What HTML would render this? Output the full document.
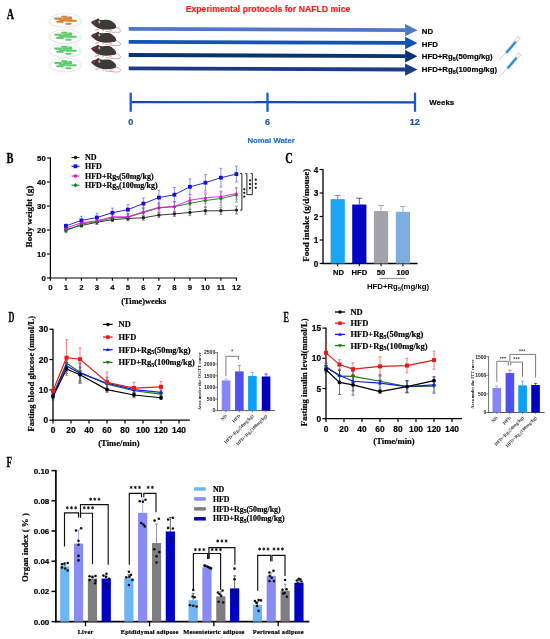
<!DOCTYPE html>
<html><head><meta charset="utf-8"><style>
html,body{margin:0;padding:0;background:#fff;}
svg{display:block;will-change:transform;}
</style></head><body>
<svg width="550" height="639" viewBox="0 0 550 639">
<rect width="550" height="639" fill="#fff"/>
<text transform="translate(6.7,18.6) scale(0.68,1)" font-family='"Liberation Serif", serif' font-size="14.8" font-weight="bold" fill="#000" stroke="#000" stroke-width="0.3">A</text>
<text x="185.7" y="12.4" font-family='"Liberation Sans", sans-serif' font-size="8.7" font-weight="bold" fill="#ff1a1a" text-anchor="start" stroke="#ff1a1a" stroke-width="0.18" >Experimental protocols for NAFLD mice</text>
<ellipse cx="65.4" cy="20.5" rx="16.4" ry="6.9" fill="#fff" stroke="#d6d6d6" stroke-width="0.55"/>
<ellipse cx="65.4" cy="21.4" rx="15.4" ry="5.6" fill="none" stroke="#e2e2e2" stroke-width="0.45"/>
<rect x="61.2" y="15.65" width="6.50" height="2.1" rx="1" fill="#d48030"/>
<rect x="54.3" y="17.55" width="8.00" height="2.1" rx="1" fill="#d48030"/>
<rect x="62.7" y="17.55" width="9.60" height="2.1" rx="1" fill="#d48030"/>
<rect x="56.2" y="20.75" width="7.60" height="2.1" rx="1" fill="#d48030"/>
<rect x="65.4" y="19.65" width="11.40" height="2.1" rx="1" fill="#d48030"/>
<rect x="65.4" y="22.65" width="6.10" height="2.1" rx="1" fill="#d48030"/>
<rect x="59" y="19.25" width="7.00" height="2.1" rx="1" fill="#d48030"/>
<rect x="68" y="16.45" width="4.00" height="2.1" rx="1" fill="#d48030"/>
<ellipse cx="65.4" cy="36.6" rx="16.4" ry="6.9" fill="#fff" stroke="#d6d6d6" stroke-width="0.55"/>
<ellipse cx="65.4" cy="37.5" rx="15.4" ry="5.6" fill="none" stroke="#e2e2e2" stroke-width="0.45"/>
<rect x="61.2" y="31.75" width="6.50" height="2.1" rx="1" fill="#5ccc6a"/>
<rect x="54.3" y="33.65" width="8.00" height="2.1" rx="1" fill="#5ccc6a"/>
<rect x="62.7" y="33.65" width="9.60" height="2.1" rx="1" fill="#5ccc6a"/>
<rect x="56.2" y="36.85" width="7.60" height="2.1" rx="1" fill="#5ccc6a"/>
<rect x="65.4" y="35.75" width="11.40" height="2.1" rx="1" fill="#5ccc6a"/>
<rect x="65.4" y="38.75" width="6.10" height="2.1" rx="1" fill="#5ccc6a"/>
<rect x="59" y="35.35" width="7.00" height="2.1" rx="1" fill="#5ccc6a"/>
<rect x="68" y="32.55" width="4.00" height="2.1" rx="1" fill="#5ccc6a"/>
<ellipse cx="65.4" cy="50.5" rx="16.4" ry="6.9" fill="#fff" stroke="#d6d6d6" stroke-width="0.55"/>
<ellipse cx="65.4" cy="51.4" rx="15.4" ry="5.6" fill="none" stroke="#e2e2e2" stroke-width="0.45"/>
<rect x="61.2" y="45.65" width="6.50" height="2.1" rx="1" fill="#5ccc6a"/>
<rect x="54.3" y="47.55" width="8.00" height="2.1" rx="1" fill="#5ccc6a"/>
<rect x="62.7" y="47.55" width="9.60" height="2.1" rx="1" fill="#5ccc6a"/>
<rect x="56.2" y="50.75" width="7.60" height="2.1" rx="1" fill="#5ccc6a"/>
<rect x="65.4" y="49.65" width="11.40" height="2.1" rx="1" fill="#5ccc6a"/>
<rect x="65.4" y="52.65" width="6.10" height="2.1" rx="1" fill="#5ccc6a"/>
<rect x="59" y="49.25" width="7.00" height="2.1" rx="1" fill="#5ccc6a"/>
<rect x="68" y="46.45" width="4.00" height="2.1" rx="1" fill="#5ccc6a"/>
<ellipse cx="65.4" cy="65" rx="16.4" ry="6.9" fill="#fff" stroke="#d6d6d6" stroke-width="0.55"/>
<ellipse cx="65.4" cy="65.9" rx="15.4" ry="5.6" fill="none" stroke="#e2e2e2" stroke-width="0.45"/>
<rect x="61.2" y="60.15" width="6.50" height="2.1" rx="1" fill="#5ccc6a"/>
<rect x="54.3" y="62.05" width="8.00" height="2.1" rx="1" fill="#5ccc6a"/>
<rect x="62.7" y="62.05" width="9.60" height="2.1" rx="1" fill="#5ccc6a"/>
<rect x="56.2" y="65.25" width="7.60" height="2.1" rx="1" fill="#5ccc6a"/>
<rect x="65.4" y="64.15" width="11.40" height="2.1" rx="1" fill="#5ccc6a"/>
<rect x="65.4" y="67.15" width="6.10" height="2.1" rx="1" fill="#5ccc6a"/>
<rect x="59" y="63.75" width="7.00" height="2.1" rx="1" fill="#5ccc6a"/>
<rect x="68" y="60.95" width="4.00" height="2.1" rx="1" fill="#5ccc6a"/>
<g transform="translate(0,0)">
<path d="M115.8,27.3 C118.5,28 120.6,29.3 120.5,31 C120.3,32.6 117.5,32.6 112,32.1 C109,31.8 107,31.5 105.3,31.2" fill="none" stroke="#e89a9a" stroke-width="0.95"/>
<path d="M98.9,29 L95.3,30.4 M104.2,29.5 L102.6,31 M109.8,29.6 L111.5,30.9" stroke="#e89a9a" stroke-width="1.1" fill="none"/>
<path d="M91.05,22.3 C92.3,21.2 93.8,20.4 95.3,20.1 L96.7,19.3 L98.1,18.2 L99.6,19.7 C101,20 102,20.1 103,20.1 C105,19.8 107,19.7 108.4,19.9 C110.5,20.3 112,21.1 112.9,22 C114.3,23 115.3,24 115.7,25 C116.2,26 116.3,27 115.9,27.7 C115.2,28.5 114.3,28.8 113.5,28.9 C111,29.4 108.5,29.6 106.2,29.6 C104,29.6 102,29.3 100.4,28.9 C98.8,28.4 97.3,27.8 96,27 C94.8,26.2 93.4,25.1 92.4,24.1 C91.8,23.5 91.3,22.9 91.05,22.3 Z" fill="#3d3939"/>
<ellipse cx="99.3" cy="21.9" rx="0.9" ry="1.5" fill="#f0a0a0" transform="rotate(-15 99.3 21.9)"/>
<circle cx="94.6" cy="22.2" r="0.75" fill="#e8203c"/>
</g>
<g transform="translate(0,13.2)">
<path d="M115.8,27.3 C118.5,28 120.6,29.3 120.5,31 C120.3,32.6 117.5,32.6 112,32.1 C109,31.8 107,31.5 105.3,31.2" fill="none" stroke="#e89a9a" stroke-width="0.95"/>
<path d="M98.9,29 L95.3,30.4 M104.2,29.5 L102.6,31 M109.8,29.6 L111.5,30.9" stroke="#e89a9a" stroke-width="1.1" fill="none"/>
<path d="M91.05,22.3 C92.3,21.2 93.8,20.4 95.3,20.1 L96.7,19.3 L98.1,18.2 L99.6,19.7 C101,20 102,20.1 103,20.1 C105,19.8 107,19.7 108.4,19.9 C110.5,20.3 112,21.1 112.9,22 C114.3,23 115.3,24 115.7,25 C116.2,26 116.3,27 115.9,27.7 C115.2,28.5 114.3,28.8 113.5,28.9 C111,29.4 108.5,29.6 106.2,29.6 C104,29.6 102,29.3 100.4,28.9 C98.8,28.4 97.3,27.8 96,27 C94.8,26.2 93.4,25.1 92.4,24.1 C91.8,23.5 91.3,22.9 91.05,22.3 Z" fill="#3d3939"/>
<ellipse cx="99.3" cy="21.9" rx="0.9" ry="1.5" fill="#f0a0a0" transform="rotate(-15 99.3 21.9)"/>
<circle cx="94.6" cy="22.2" r="0.75" fill="#e8203c"/>
</g>
<g transform="translate(0,26.2)">
<path d="M115.8,27.3 C118.5,28 120.6,29.3 120.5,31 C120.3,32.6 117.5,32.6 112,32.1 C109,31.8 107,31.5 105.3,31.2" fill="none" stroke="#e89a9a" stroke-width="0.95"/>
<path d="M98.9,29 L95.3,30.4 M104.2,29.5 L102.6,31 M109.8,29.6 L111.5,30.9" stroke="#e89a9a" stroke-width="1.1" fill="none"/>
<path d="M91.05,22.3 C92.3,21.2 93.8,20.4 95.3,20.1 L96.7,19.3 L98.1,18.2 L99.6,19.7 C101,20 102,20.1 103,20.1 C105,19.8 107,19.7 108.4,19.9 C110.5,20.3 112,21.1 112.9,22 C114.3,23 115.3,24 115.7,25 C116.2,26 116.3,27 115.9,27.7 C115.2,28.5 114.3,28.8 113.5,28.9 C111,29.4 108.5,29.6 106.2,29.6 C104,29.6 102,29.3 100.4,28.9 C98.8,28.4 97.3,27.8 96,27 C94.8,26.2 93.4,25.1 92.4,24.1 C91.8,23.5 91.3,22.9 91.05,22.3 Z" fill="#3d3939"/>
<ellipse cx="99.3" cy="21.9" rx="0.9" ry="1.5" fill="#f0a0a0" transform="rotate(-15 99.3 21.9)"/>
<circle cx="94.6" cy="22.2" r="0.75" fill="#e8203c"/>
</g>
<g transform="translate(0,39.6)">
<path d="M115.8,27.3 C118.5,28 120.6,29.3 120.5,31 C120.3,32.6 117.5,32.6 112,32.1 C109,31.8 107,31.5 105.3,31.2" fill="none" stroke="#e89a9a" stroke-width="0.95"/>
<path d="M98.9,29 L95.3,30.4 M104.2,29.5 L102.6,31 M109.8,29.6 L111.5,30.9" stroke="#e89a9a" stroke-width="1.1" fill="none"/>
<path d="M91.05,22.3 C92.3,21.2 93.8,20.4 95.3,20.1 L96.7,19.3 L98.1,18.2 L99.6,19.7 C101,20 102,20.1 103,20.1 C105,19.8 107,19.7 108.4,19.9 C110.5,20.3 112,21.1 112.9,22 C114.3,23 115.3,24 115.7,25 C116.2,26 116.3,27 115.9,27.7 C115.2,28.5 114.3,28.8 113.5,28.9 C111,29.4 108.5,29.6 106.2,29.6 C104,29.6 102,29.3 100.4,28.9 C98.8,28.4 97.3,27.8 96,27 C94.8,26.2 93.4,25.1 92.4,24.1 C91.8,23.5 91.3,22.9 91.05,22.3 Z" fill="#3d3939"/>
<ellipse cx="99.3" cy="21.9" rx="0.9" ry="1.5" fill="#f0a0a0" transform="rotate(-15 99.3 21.9)"/>
<circle cx="94.6" cy="22.2" r="0.75" fill="#e8203c"/>
</g>
<path d="M128.7,27.00 L405.6,28.15 L405.6,31.95 L128.7,30.80 Z" fill="#4e77c8"/>
<path d="M405.1,23.95 L417.5,30.15 L405.1,36.35 Z" fill="#4e77c8"/>
<path d="M128.7,40.00 L405.6,41.05 L405.6,44.85 L128.7,43.80 Z" fill="#1253b4"/>
<path d="M405.1,36.85 L417.5,43.05 L405.1,49.25 Z" fill="#1253b4"/>
<path d="M128.7,53.10 L405.6,54.20 L405.6,58.00 L128.7,56.90 Z" fill="#0a3374"/>
<path d="M405.1,50.00 L417.5,56.20 L405.1,62.40 Z" fill="#0a3374"/>
<path d="M128.7,66.55 L405.6,67.60 L405.6,71.40 L128.7,70.35 Z" fill="#1c3b85"/>
<path d="M405.1,63.40 L417.5,69.60 L405.1,75.80 Z" fill="#1c3b85"/>
<text x="421.8" y="33.6" font-family='"Liberation Sans", sans-serif' font-size="7.8" font-weight="bold" fill="#000" text-anchor="start" stroke="#000" stroke-width="0.18" >ND</text>
<text x="421.8" y="46.550000000000004" font-family='"Liberation Sans", sans-serif' font-size="7.8" font-weight="bold" fill="#000" text-anchor="start" stroke="#000" stroke-width="0.18" >HFD</text>
<text x="421.8" y="59.0" font-family='"Liberation Sans", sans-serif' font-size="7.8" font-weight="bold" fill="#000" text-anchor="start" stroke="#000" stroke-width="0.18" >HFD+Rg<tspan font-size="5.5" dy="1.5">5</tspan><tspan dy="-1.5">(50mg/kg)</tspan></text>
<text x="421.8" y="72.45" font-family='"Liberation Sans", sans-serif' font-size="7.8" font-weight="bold" fill="#000" text-anchor="start" stroke="#000" stroke-width="0.18" >HFD+Rg<tspan font-size="5.5" dy="1.5">5</tspan><tspan dy="-1.5">(100mg/kg)</tspan></text>
<line x1="498.60" y1="60.10" x2="506.40" y2="52.70" stroke="#a0a0a0" stroke-width="0.55" />
<line x1="506.00" y1="53.20" x2="519.00" y2="37.40" stroke="#c4c4c4" stroke-width="3.3" />
<line x1="506.20" y1="52.95" x2="518.70" y2="37.75" stroke="#ffffff" stroke-width="2.2" />
<line x1="506.40" y1="52.70" x2="515.80" y2="41.70" stroke="#1a90e2" stroke-width="2.1" />
<line x1="520.76" y1="38.71" x2="517.24" y2="36.09" stroke="#cfcfcf" stroke-width="0.8" />
<line x1="499.40" y1="76.20" x2="507.60" y2="68.30" stroke="#a0a0a0" stroke-width="0.55" />
<line x1="507.20" y1="68.80" x2="519.70" y2="53.90" stroke="#c4c4c4" stroke-width="3.3" />
<line x1="507.40" y1="68.55" x2="519.40" y2="54.25" stroke="#ffffff" stroke-width="2.2" />
<line x1="507.60" y1="68.30" x2="516.60" y2="57.80" stroke="#1a90e2" stroke-width="2.1" />
<line x1="521.42" y1="55.27" x2="517.98" y2="52.53" stroke="#cfcfcf" stroke-width="0.8" />
<path d="M130.7,100.95 L415,101.35 L415,103.6 L130.7,103.15 Z" fill="#144ca2"/>
<rect x="129.54999999999998" y="92.6" width="2.3" height="19.2" fill="#1a5cc6"/>
<rect x="266.35" y="92.6" width="2.3" height="19.2" fill="#1a5cc6"/>
<rect x="413.85" y="92.6" width="2.3" height="19.2" fill="#1a5cc6"/>
<text x="130.7" y="124.9" font-family='"Liberation Sans", sans-serif' font-size="9" font-weight="bold" fill="#1a50a8" text-anchor="middle" stroke="#1a50a8" stroke-width="0.18" >0</text>
<text x="267.6" y="124.9" font-family='"Liberation Sans", sans-serif' font-size="9" font-weight="bold" fill="#1a50a8" text-anchor="middle" stroke="#1a50a8" stroke-width="0.18" >6</text>
<text x="414.8" y="124.9" font-family='"Liberation Sans", sans-serif' font-size="9" font-weight="bold" fill="#1a50a8" text-anchor="middle" stroke="#1a50a8" stroke-width="0.18" >12</text>
<text x="429.3" y="104.9" font-family='"Liberation Sans", sans-serif' font-size="7.9" font-weight="bold" fill="#000" text-anchor="start" stroke="#000" stroke-width="0.18" >Weeks</text>
<text x="247.4" y="142.7" font-family='"Liberation Sans", sans-serif' font-size="7.8" font-weight="bold" fill="#2a6ed0" text-anchor="start" stroke="#2a6ed0" stroke-width="0.18" >Nomal Water</text>
<text transform="translate(6.6,162.7) scale(0.7,1)" font-family='"Liberation Serif", serif' font-size="14.8" font-weight="bold" fill="#000" stroke="#000" stroke-width="0.3">B</text>
<line x1="50.40" y1="278.00" x2="50.40" y2="157.50" stroke="#000" stroke-width="1.2" />
<line x1="49.80" y1="278.00" x2="236.90" y2="278.00" stroke="#000" stroke-width="1.2" />
<line x1="47.00" y1="278.00" x2="50.40" y2="278.00" stroke="#000" stroke-width="1.1" />
<text x="45.8" y="280.8" font-family='"Liberation Sans", sans-serif' font-size="7.8" font-weight="bold" fill="#000" text-anchor="end" stroke="#000" stroke-width="0.18" >0</text>
<line x1="47.00" y1="254.00" x2="50.40" y2="254.00" stroke="#000" stroke-width="1.1" />
<text x="45.8" y="256.8" font-family='"Liberation Sans", sans-serif' font-size="7.8" font-weight="bold" fill="#000" text-anchor="end" stroke="#000" stroke-width="0.18" >10</text>
<line x1="47.00" y1="230.00" x2="50.40" y2="230.00" stroke="#000" stroke-width="1.1" />
<text x="45.8" y="232.8" font-family='"Liberation Sans", sans-serif' font-size="7.8" font-weight="bold" fill="#000" text-anchor="end" stroke="#000" stroke-width="0.18" >20</text>
<line x1="47.00" y1="206.00" x2="50.40" y2="206.00" stroke="#000" stroke-width="1.1" />
<text x="45.8" y="208.8" font-family='"Liberation Sans", sans-serif' font-size="7.8" font-weight="bold" fill="#000" text-anchor="end" stroke="#000" stroke-width="0.18" >30</text>
<line x1="47.00" y1="182.00" x2="50.40" y2="182.00" stroke="#000" stroke-width="1.1" />
<text x="45.8" y="184.8" font-family='"Liberation Sans", sans-serif' font-size="7.8" font-weight="bold" fill="#000" text-anchor="end" stroke="#000" stroke-width="0.18" >40</text>
<line x1="47.00" y1="158.00" x2="50.40" y2="158.00" stroke="#000" stroke-width="1.1" />
<text x="45.8" y="160.8" font-family='"Liberation Sans", sans-serif' font-size="7.8" font-weight="bold" fill="#000" text-anchor="end" stroke="#000" stroke-width="0.18" >50</text>
<line x1="50.40" y1="278.00" x2="50.40" y2="280.80" stroke="#000" stroke-width="1.1" />
<text x="50.4" y="289.7" font-family='"Liberation Sans", sans-serif' font-size="7.8" font-weight="bold" fill="#000" text-anchor="middle" stroke="#000" stroke-width="0.18" >0</text>
<line x1="65.90" y1="278.00" x2="65.90" y2="280.80" stroke="#000" stroke-width="1.1" />
<text x="65.9" y="289.7" font-family='"Liberation Sans", sans-serif' font-size="7.8" font-weight="bold" fill="#000" text-anchor="middle" stroke="#000" stroke-width="0.18" >1</text>
<line x1="81.40" y1="278.00" x2="81.40" y2="280.80" stroke="#000" stroke-width="1.1" />
<text x="81.4" y="289.7" font-family='"Liberation Sans", sans-serif' font-size="7.8" font-weight="bold" fill="#000" text-anchor="middle" stroke="#000" stroke-width="0.18" >2</text>
<line x1="96.90" y1="278.00" x2="96.90" y2="280.80" stroke="#000" stroke-width="1.1" />
<text x="96.9" y="289.7" font-family='"Liberation Sans", sans-serif' font-size="7.8" font-weight="bold" fill="#000" text-anchor="middle" stroke="#000" stroke-width="0.18" >3</text>
<line x1="112.40" y1="278.00" x2="112.40" y2="280.80" stroke="#000" stroke-width="1.1" />
<text x="112.4" y="289.7" font-family='"Liberation Sans", sans-serif' font-size="7.8" font-weight="bold" fill="#000" text-anchor="middle" stroke="#000" stroke-width="0.18" >4</text>
<line x1="127.90" y1="278.00" x2="127.90" y2="280.80" stroke="#000" stroke-width="1.1" />
<text x="127.9" y="289.7" font-family='"Liberation Sans", sans-serif' font-size="7.8" font-weight="bold" fill="#000" text-anchor="middle" stroke="#000" stroke-width="0.18" >5</text>
<line x1="143.40" y1="278.00" x2="143.40" y2="280.80" stroke="#000" stroke-width="1.1" />
<text x="143.4" y="289.7" font-family='"Liberation Sans", sans-serif' font-size="7.8" font-weight="bold" fill="#000" text-anchor="middle" stroke="#000" stroke-width="0.18" >6</text>
<line x1="158.90" y1="278.00" x2="158.90" y2="280.80" stroke="#000" stroke-width="1.1" />
<text x="158.9" y="289.7" font-family='"Liberation Sans", sans-serif' font-size="7.8" font-weight="bold" fill="#000" text-anchor="middle" stroke="#000" stroke-width="0.18" >7</text>
<line x1="174.40" y1="278.00" x2="174.40" y2="280.80" stroke="#000" stroke-width="1.1" />
<text x="174.4" y="289.7" font-family='"Liberation Sans", sans-serif' font-size="7.8" font-weight="bold" fill="#000" text-anchor="middle" stroke="#000" stroke-width="0.18" >8</text>
<line x1="189.90" y1="278.00" x2="189.90" y2="280.80" stroke="#000" stroke-width="1.1" />
<text x="189.9" y="289.7" font-family='"Liberation Sans", sans-serif' font-size="7.8" font-weight="bold" fill="#000" text-anchor="middle" stroke="#000" stroke-width="0.18" >9</text>
<line x1="205.40" y1="278.00" x2="205.40" y2="280.80" stroke="#000" stroke-width="1.1" />
<text x="205.4" y="289.7" font-family='"Liberation Sans", sans-serif' font-size="7.8" font-weight="bold" fill="#000" text-anchor="middle" stroke="#000" stroke-width="0.18" >10</text>
<line x1="220.90" y1="278.00" x2="220.90" y2="280.80" stroke="#000" stroke-width="1.1" />
<text x="220.9" y="289.7" font-family='"Liberation Sans", sans-serif' font-size="7.8" font-weight="bold" fill="#000" text-anchor="middle" stroke="#000" stroke-width="0.18" >11</text>
<line x1="236.40" y1="278.00" x2="236.40" y2="280.80" stroke="#000" stroke-width="1.1" />
<text x="236.4" y="289.7" font-family='"Liberation Sans", sans-serif' font-size="7.8" font-weight="bold" fill="#000" text-anchor="middle" stroke="#000" stroke-width="0.18" >12</text>
<text transform="translate(32.00,216.50) rotate(-90)" font-family='"Liberation Serif", serif' font-size="9.2" font-weight="bold" fill="#000" text-anchor="middle" stroke="#000" stroke-width="0.18">Body weight (g)</text>
<text x="143.7" y="304" font-family='"Liberation Serif", serif' font-size="8.3" font-weight="bold" fill="#000" text-anchor="middle" stroke="#000" stroke-width="0.18" >(Time)weeks</text>
<g stroke="#555" stroke-width="0.8" opacity="0.85"><line x1="65.90" y1="228.08" x2="65.90" y2="230.96"/><line x1="64.50" y1="228.08" x2="67.30" y2="228.08"/><line x1="64.50" y1="230.96" x2="67.30" y2="230.96"/></g>
<g stroke="#555" stroke-width="0.8" opacity="0.85"><line x1="81.40" y1="223.76" x2="81.40" y2="227.12"/><line x1="80.00" y1="223.76" x2="82.80" y2="223.76"/><line x1="80.00" y1="227.12" x2="82.80" y2="227.12"/></g>
<g stroke="#555" stroke-width="0.8" opacity="0.85"><line x1="96.90" y1="220.40" x2="96.90" y2="224.24"/><line x1="95.50" y1="220.40" x2="98.30" y2="220.40"/><line x1="95.50" y1="224.24" x2="98.30" y2="224.24"/></g>
<g stroke="#555" stroke-width="0.8" opacity="0.85"><line x1="112.40" y1="217.76" x2="112.40" y2="221.60"/><line x1="111.00" y1="217.76" x2="113.80" y2="217.76"/><line x1="111.00" y1="221.60" x2="113.80" y2="221.60"/></g>
<g stroke="#555" stroke-width="0.8" opacity="0.85"><line x1="127.90" y1="216.32" x2="127.90" y2="220.64"/><line x1="126.50" y1="216.32" x2="129.30" y2="216.32"/><line x1="126.50" y1="220.64" x2="129.30" y2="220.64"/></g>
<g stroke="#555" stroke-width="0.8" opacity="0.85"><line x1="143.40" y1="215.36" x2="143.40" y2="220.16"/><line x1="142.00" y1="215.36" x2="144.80" y2="215.36"/><line x1="142.00" y1="220.16" x2="144.80" y2="220.16"/></g>
<g stroke="#555" stroke-width="0.8" opacity="0.85"><line x1="158.90" y1="212.72" x2="158.90" y2="217.52"/><line x1="157.50" y1="212.72" x2="160.30" y2="212.72"/><line x1="157.50" y1="217.52" x2="160.30" y2="217.52"/></g>
<g stroke="#555" stroke-width="0.8" opacity="0.85"><line x1="174.40" y1="211.28" x2="174.40" y2="216.56"/><line x1="173.00" y1="211.28" x2="175.80" y2="211.28"/><line x1="173.00" y1="216.56" x2="175.80" y2="216.56"/></g>
<g stroke="#555" stroke-width="0.8" opacity="0.85"><line x1="189.90" y1="209.36" x2="189.90" y2="215.60"/><line x1="188.50" y1="209.36" x2="191.30" y2="209.36"/><line x1="188.50" y1="215.60" x2="191.30" y2="215.60"/></g>
<g stroke="#555" stroke-width="0.8" opacity="0.85"><line x1="205.40" y1="207.44" x2="205.40" y2="214.16"/><line x1="204.00" y1="207.44" x2="206.80" y2="207.44"/><line x1="204.00" y1="214.16" x2="206.80" y2="214.16"/></g>
<g stroke="#555" stroke-width="0.8" opacity="0.85"><line x1="220.90" y1="207.20" x2="220.90" y2="214.40"/><line x1="219.50" y1="207.20" x2="222.30" y2="207.20"/><line x1="219.50" y1="214.40" x2="222.30" y2="214.40"/></g>
<g stroke="#555" stroke-width="0.8" opacity="0.85"><line x1="236.40" y1="206.24" x2="236.40" y2="213.92"/><line x1="235.00" y1="206.24" x2="237.80" y2="206.24"/><line x1="235.00" y1="213.92" x2="237.80" y2="213.92"/></g>
<g stroke="#3c9a3c" stroke-width="0.8" opacity="0.85"><line x1="65.90" y1="229.28" x2="65.90" y2="232.64"/><line x1="64.50" y1="229.28" x2="67.30" y2="229.28"/><line x1="64.50" y1="232.64" x2="67.30" y2="232.64"/></g>
<g stroke="#3c9a3c" stroke-width="0.8" opacity="0.85"><line x1="81.40" y1="221.60" x2="81.40" y2="226.40"/><line x1="80.00" y1="221.60" x2="82.80" y2="221.60"/><line x1="80.00" y1="226.40" x2="82.80" y2="226.40"/></g>
<g stroke="#3c9a3c" stroke-width="0.8" opacity="0.85"><line x1="96.90" y1="218.72" x2="96.90" y2="224.48"/><line x1="95.50" y1="218.72" x2="98.30" y2="218.72"/><line x1="95.50" y1="224.48" x2="98.30" y2="224.48"/></g>
<g stroke="#3c9a3c" stroke-width="0.8" opacity="0.85"><line x1="112.40" y1="214.88" x2="112.40" y2="221.12"/><line x1="111.00" y1="214.88" x2="113.80" y2="214.88"/><line x1="111.00" y1="221.12" x2="113.80" y2="221.12"/></g>
<g stroke="#3c9a3c" stroke-width="0.8" opacity="0.85"><line x1="127.90" y1="213.92" x2="127.90" y2="220.64"/><line x1="126.50" y1="213.92" x2="129.30" y2="213.92"/><line x1="126.50" y1="220.64" x2="129.30" y2="220.64"/></g>
<g stroke="#3c9a3c" stroke-width="0.8" opacity="0.85"><line x1="143.40" y1="208.16" x2="143.40" y2="216.80"/><line x1="142.00" y1="208.16" x2="144.80" y2="208.16"/><line x1="142.00" y1="216.80" x2="144.80" y2="216.80"/></g>
<g stroke="#3c9a3c" stroke-width="0.8" opacity="0.85"><line x1="158.90" y1="203.12" x2="158.90" y2="212.72"/><line x1="157.50" y1="203.12" x2="160.30" y2="203.12"/><line x1="157.50" y1="212.72" x2="160.30" y2="212.72"/></g>
<g stroke="#3c9a3c" stroke-width="0.8" opacity="0.85"><line x1="174.40" y1="201.68" x2="174.40" y2="211.76"/><line x1="173.00" y1="201.68" x2="175.80" y2="201.68"/><line x1="173.00" y1="211.76" x2="175.80" y2="211.76"/></g>
<g stroke="#3c9a3c" stroke-width="0.8" opacity="0.85"><line x1="189.90" y1="197.60" x2="189.90" y2="209.12"/><line x1="188.50" y1="197.60" x2="191.30" y2="197.60"/><line x1="188.50" y1="209.12" x2="191.30" y2="209.12"/></g>
<g stroke="#3c9a3c" stroke-width="0.8" opacity="0.85"><line x1="205.40" y1="194.24" x2="205.40" y2="206.72"/><line x1="204.00" y1="194.24" x2="206.80" y2="194.24"/><line x1="204.00" y1="206.72" x2="206.80" y2="206.72"/></g>
<g stroke="#3c9a3c" stroke-width="0.8" opacity="0.85"><line x1="220.90" y1="191.84" x2="220.90" y2="205.28"/><line x1="219.50" y1="191.84" x2="222.30" y2="191.84"/><line x1="219.50" y1="205.28" x2="222.30" y2="205.28"/></g>
<g stroke="#3c9a3c" stroke-width="0.8" opacity="0.85"><line x1="236.40" y1="187.76" x2="236.40" y2="202.16"/><line x1="235.00" y1="187.76" x2="237.80" y2="187.76"/><line x1="235.00" y1="202.16" x2="237.80" y2="202.16"/></g>
<g stroke="#e060e0" stroke-width="0.8" opacity="0.85"><line x1="65.90" y1="226.52" x2="65.90" y2="229.88"/><line x1="64.50" y1="226.52" x2="67.30" y2="226.52"/><line x1="64.50" y1="229.88" x2="67.30" y2="229.88"/></g>
<g stroke="#e060e0" stroke-width="0.8" opacity="0.85"><line x1="81.40" y1="220.40" x2="81.40" y2="225.20"/><line x1="80.00" y1="220.40" x2="82.80" y2="220.40"/><line x1="80.00" y1="225.20" x2="82.80" y2="225.20"/></g>
<g stroke="#e060e0" stroke-width="0.8" opacity="0.85"><line x1="96.90" y1="218.00" x2="96.90" y2="223.76"/><line x1="95.50" y1="218.00" x2="98.30" y2="218.00"/><line x1="95.50" y1="223.76" x2="98.30" y2="223.76"/></g>
<g stroke="#e060e0" stroke-width="0.8" opacity="0.85"><line x1="112.40" y1="213.68" x2="112.40" y2="219.92"/><line x1="111.00" y1="213.68" x2="113.80" y2="213.68"/><line x1="111.00" y1="219.92" x2="113.80" y2="219.92"/></g>
<g stroke="#e060e0" stroke-width="0.8" opacity="0.85"><line x1="127.90" y1="213.44" x2="127.90" y2="220.16"/><line x1="126.50" y1="213.44" x2="129.30" y2="213.44"/><line x1="126.50" y1="220.16" x2="129.30" y2="220.16"/></g>
<g stroke="#e060e0" stroke-width="0.8" opacity="0.85"><line x1="143.40" y1="207.44" x2="143.40" y2="216.08"/><line x1="142.00" y1="207.44" x2="144.80" y2="207.44"/><line x1="142.00" y1="216.08" x2="144.80" y2="216.08"/></g>
<g stroke="#e060e0" stroke-width="0.8" opacity="0.85"><line x1="158.90" y1="202.88" x2="158.90" y2="212.00"/><line x1="157.50" y1="202.88" x2="160.30" y2="202.88"/><line x1="157.50" y1="212.00" x2="160.30" y2="212.00"/></g>
<g stroke="#e060e0" stroke-width="0.8" opacity="0.85"><line x1="174.40" y1="201.68" x2="174.40" y2="211.28"/><line x1="173.00" y1="201.68" x2="175.80" y2="201.68"/><line x1="173.00" y1="211.28" x2="175.80" y2="211.28"/></g>
<g stroke="#e060e0" stroke-width="0.8" opacity="0.85"><line x1="189.90" y1="194.96" x2="189.90" y2="205.52"/><line x1="188.50" y1="194.96" x2="191.30" y2="194.96"/><line x1="188.50" y1="205.52" x2="191.30" y2="205.52"/></g>
<g stroke="#e060e0" stroke-width="0.8" opacity="0.85"><line x1="205.40" y1="192.32" x2="205.40" y2="203.36"/><line x1="204.00" y1="192.32" x2="206.80" y2="192.32"/><line x1="204.00" y1="203.36" x2="206.80" y2="203.36"/></g>
<g stroke="#e060e0" stroke-width="0.8" opacity="0.85"><line x1="220.90" y1="190.88" x2="220.90" y2="202.40"/><line x1="219.50" y1="190.88" x2="222.30" y2="190.88"/><line x1="219.50" y1="202.40" x2="222.30" y2="202.40"/></g>
<g stroke="#e060e0" stroke-width="0.8" opacity="0.85"><line x1="236.40" y1="187.76" x2="236.40" y2="199.28"/><line x1="235.00" y1="187.76" x2="237.80" y2="187.76"/><line x1="235.00" y1="199.28" x2="237.80" y2="199.28"/></g>
<g stroke="#5a5aec" stroke-width="0.8" opacity="0.85"><line x1="65.90" y1="224.00" x2="65.90" y2="227.84"/><line x1="64.50" y1="224.00" x2="67.30" y2="224.00"/><line x1="64.50" y1="227.84" x2="67.30" y2="227.84"/></g>
<g stroke="#5a5aec" stroke-width="0.8" opacity="0.85"><line x1="81.40" y1="216.32" x2="81.40" y2="224.48"/><line x1="80.00" y1="216.32" x2="82.80" y2="216.32"/><line x1="80.00" y1="224.48" x2="82.80" y2="224.48"/></g>
<g stroke="#5a5aec" stroke-width="0.8" opacity="0.85"><line x1="96.90" y1="213.20" x2="96.90" y2="221.84"/><line x1="95.50" y1="213.20" x2="98.30" y2="213.20"/><line x1="95.50" y1="221.84" x2="98.30" y2="221.84"/></g>
<g stroke="#5a5aec" stroke-width="0.8" opacity="0.85"><line x1="112.40" y1="208.16" x2="112.40" y2="217.28"/><line x1="111.00" y1="208.16" x2="113.80" y2="208.16"/><line x1="111.00" y1="217.28" x2="113.80" y2="217.28"/></g>
<g stroke="#5a5aec" stroke-width="0.8" opacity="0.85"><line x1="127.90" y1="204.80" x2="127.90" y2="214.40"/><line x1="126.50" y1="204.80" x2="129.30" y2="204.80"/><line x1="126.50" y1="214.40" x2="129.30" y2="214.40"/></g>
<g stroke="#5a5aec" stroke-width="0.8" opacity="0.85"><line x1="143.40" y1="198.08" x2="143.40" y2="209.12"/><line x1="142.00" y1="198.08" x2="144.80" y2="198.08"/><line x1="142.00" y1="209.12" x2="144.80" y2="209.12"/></g>
<g stroke="#5a5aec" stroke-width="0.8" opacity="0.85"><line x1="158.90" y1="190.40" x2="158.90" y2="204.80"/><line x1="157.50" y1="190.40" x2="160.30" y2="190.40"/><line x1="157.50" y1="204.80" x2="160.30" y2="204.80"/></g>
<g stroke="#5a5aec" stroke-width="0.8" opacity="0.85"><line x1="174.40" y1="187.52" x2="174.40" y2="201.92"/><line x1="173.00" y1="187.52" x2="175.80" y2="187.52"/><line x1="173.00" y1="201.92" x2="175.80" y2="201.92"/></g>
<g stroke="#5a5aec" stroke-width="0.8" opacity="0.85"><line x1="189.90" y1="178.88" x2="189.90" y2="194.72"/><line x1="188.50" y1="178.88" x2="191.30" y2="178.88"/><line x1="188.50" y1="194.72" x2="191.30" y2="194.72"/></g>
<g stroke="#5a5aec" stroke-width="0.8" opacity="0.85"><line x1="205.40" y1="174.56" x2="205.40" y2="190.88"/><line x1="204.00" y1="174.56" x2="206.80" y2="174.56"/><line x1="204.00" y1="190.88" x2="206.80" y2="190.88"/></g>
<g stroke="#5a5aec" stroke-width="0.8" opacity="0.85"><line x1="220.90" y1="168.32" x2="220.90" y2="187.04"/><line x1="219.50" y1="168.32" x2="222.30" y2="168.32"/><line x1="219.50" y1="187.04" x2="222.30" y2="187.04"/></g>
<g stroke="#5a5aec" stroke-width="0.8" opacity="0.85"><line x1="236.40" y1="166.16" x2="236.40" y2="182.00"/><line x1="235.00" y1="166.16" x2="237.80" y2="166.16"/><line x1="235.00" y1="182.00" x2="237.80" y2="182.00"/></g>
<polyline points="65.90,229.52 81.40,225.44 96.90,222.32 112.40,219.68 127.90,218.48 143.40,217.76 158.90,215.12 174.40,213.92 189.90,212.48 205.40,210.80 220.90,210.80 236.40,210.08" fill="none" stroke="#222" stroke-width="0.9"/>
<circle cx="65.90" cy="229.52" r="1.70" fill="#222"/>
<circle cx="81.40" cy="225.44" r="1.70" fill="#222"/>
<circle cx="96.90" cy="222.32" r="1.70" fill="#222"/>
<circle cx="112.40" cy="219.68" r="1.70" fill="#222"/>
<circle cx="127.90" cy="218.48" r="1.70" fill="#222"/>
<circle cx="143.40" cy="217.76" r="1.70" fill="#222"/>
<circle cx="158.90" cy="215.12" r="1.70" fill="#222"/>
<circle cx="174.40" cy="213.92" r="1.70" fill="#222"/>
<circle cx="189.90" cy="212.48" r="1.70" fill="#222"/>
<circle cx="205.40" cy="210.80" r="1.70" fill="#222"/>
<circle cx="220.90" cy="210.80" r="1.70" fill="#222"/>
<circle cx="236.40" cy="210.08" r="1.70" fill="#222"/>
<polyline points="65.90,230.96 81.40,224.00 96.90,221.60 112.40,218.00 127.90,217.28 143.40,212.48 158.90,207.92 174.40,206.72 189.90,203.36 205.40,200.48 220.90,198.56 236.40,194.96" fill="none" stroke="#1a7a1a" stroke-width="0.9"/>
<path d="M65.90,228.92 L67.94,230.96 L65.90,233.00 L63.86,230.96 Z" fill="#1a7a1a"/>
<path d="M81.40,221.96 L83.44,224.00 L81.40,226.04 L79.36,224.00 Z" fill="#1a7a1a"/>
<path d="M96.90,219.56 L98.94,221.60 L96.90,223.64 L94.86,221.60 Z" fill="#1a7a1a"/>
<path d="M112.40,215.96 L114.44,218.00 L112.40,220.04 L110.36,218.00 Z" fill="#1a7a1a"/>
<path d="M127.90,215.24 L129.94,217.28 L127.90,219.32 L125.86,217.28 Z" fill="#1a7a1a"/>
<path d="M143.40,210.44 L145.44,212.48 L143.40,214.52 L141.36,212.48 Z" fill="#1a7a1a"/>
<path d="M158.90,205.88 L160.94,207.92 L158.90,209.96 L156.86,207.92 Z" fill="#1a7a1a"/>
<path d="M174.40,204.68 L176.44,206.72 L174.40,208.76 L172.36,206.72 Z" fill="#1a7a1a"/>
<path d="M189.90,201.32 L191.94,203.36 L189.90,205.40 L187.86,203.36 Z" fill="#1a7a1a"/>
<path d="M205.40,198.44 L207.44,200.48 L205.40,202.52 L203.36,200.48 Z" fill="#1a7a1a"/>
<path d="M220.90,196.52 L222.94,198.56 L220.90,200.60 L218.86,198.56 Z" fill="#1a7a1a"/>
<path d="M236.40,192.92 L238.44,194.96 L236.40,197.00 L234.36,194.96 Z" fill="#1a7a1a"/>
<polyline points="65.90,228.20 81.40,222.80 96.90,220.88 112.40,216.80 127.90,216.80 143.40,211.76 158.90,207.44 174.40,206.48 189.90,200.24 205.40,197.84 220.90,196.64 236.40,193.52" fill="none" stroke="#e010e0" stroke-width="0.9"/>
<path d="M65.90,226.24 L67.77,229.47 L64.03,229.47 Z" fill="#e010e0"/>
<path d="M81.40,220.84 L83.27,224.08 L79.53,224.08 Z" fill="#e010e0"/>
<path d="M96.90,218.92 L98.77,222.16 L95.03,222.16 Z" fill="#e010e0"/>
<path d="M112.40,214.84 L114.27,218.08 L110.53,218.08 Z" fill="#e010e0"/>
<path d="M127.90,214.84 L129.77,218.08 L126.03,218.08 Z" fill="#e010e0"/>
<path d="M143.40,209.80 L145.27,213.03 L141.53,213.03 Z" fill="#e010e0"/>
<path d="M158.90,205.48 L160.77,208.72 L157.03,208.72 Z" fill="#e010e0"/>
<path d="M174.40,204.53 L176.27,207.76 L172.53,207.76 Z" fill="#e010e0"/>
<path d="M189.90,198.28 L191.77,201.52 L188.03,201.52 Z" fill="#e010e0"/>
<path d="M205.40,195.88 L207.27,199.12 L203.53,199.12 Z" fill="#e010e0"/>
<path d="M220.90,194.68 L222.77,197.91 L219.03,197.91 Z" fill="#e010e0"/>
<path d="M236.40,191.56 L238.27,194.79 L234.53,194.79 Z" fill="#e010e0"/>
<polyline points="65.90,225.92 81.40,220.40 96.90,217.52 112.40,212.72 127.90,209.60 143.40,203.60 158.90,197.60 174.40,194.72 189.90,186.80 205.40,182.72 220.90,177.68 236.40,174.08" fill="none" stroke="#1010e0" stroke-width="0.9"/>
<rect x="64.00" y="224.02" width="3.80" height="3.80" fill="#1010e0"/>
<rect x="79.50" y="218.50" width="3.80" height="3.80" fill="#1010e0"/>
<rect x="95.00" y="215.62" width="3.80" height="3.80" fill="#1010e0"/>
<rect x="110.50" y="210.82" width="3.80" height="3.80" fill="#1010e0"/>
<rect x="126.00" y="207.70" width="3.80" height="3.80" fill="#1010e0"/>
<rect x="141.50" y="201.70" width="3.80" height="3.80" fill="#1010e0"/>
<rect x="157.00" y="195.70" width="3.80" height="3.80" fill="#1010e0"/>
<rect x="172.50" y="192.82" width="3.80" height="3.80" fill="#1010e0"/>
<rect x="188.00" y="184.90" width="3.80" height="3.80" fill="#1010e0"/>
<rect x="203.50" y="180.82" width="3.80" height="3.80" fill="#1010e0"/>
<rect x="219.00" y="175.78" width="3.80" height="3.80" fill="#1010e0"/>
<rect x="234.50" y="172.18" width="3.80" height="3.80" fill="#1010e0"/>
<line x1="71.40" y1="157.50" x2="79.50" y2="157.50" stroke="#222" stroke-width="1.0" />
<circle cx="75.50" cy="157.50" r="1.80" fill="#222"/>
<text x="85" y="160.4" font-family='"Liberation Serif", serif' font-size="8" font-weight="bold" fill="#000" text-anchor="start" stroke="#000" stroke-width="0.18" >ND</text>
<line x1="71.40" y1="166.30" x2="79.50" y2="166.30" stroke="#1010e0" stroke-width="1.0" />
<rect x="73.60" y="164.40" width="3.80" height="3.80" fill="#1010e0"/>
<text x="85" y="169.20000000000002" font-family='"Liberation Serif", serif' font-size="8" font-weight="bold" fill="#000" text-anchor="start" stroke="#000" stroke-width="0.18" >HFD</text>
<line x1="71.40" y1="176.00" x2="79.50" y2="176.00" stroke="#e010e0" stroke-width="1.0" />
<circle cx="75.50" cy="176.00" r="1.80" fill="#e010e0"/>
<text x="85" y="178.9" font-family='"Liberation Serif", serif' font-size="8" font-weight="bold" fill="#000" text-anchor="start" stroke="#000" stroke-width="0.18" >HFD+Rg<tspan font-size="5.60" dy="1.44">5</tspan><tspan dy="-1.44">(50mg/kg)</tspan></text>
<line x1="71.40" y1="185.20" x2="79.50" y2="185.20" stroke="#1a7a1a" stroke-width="1.0" />
<path d="M75.50,183.04 L77.66,185.20 L75.50,187.36 L73.34,185.20 Z" fill="#1a7a1a"/>
<text x="85" y="188.1" font-family='"Liberation Serif", serif' font-size="8" font-weight="bold" fill="#000" text-anchor="start" stroke="#000" stroke-width="0.18" >HFD+Rg<tspan font-size="5.60" dy="1.44">5</tspan><tspan dy="-1.44">(100mg/kg)</tspan></text>
<g stroke="#222" stroke-width="1.0" fill="none">
<path d="M240.2,173.6 H241.9 V210.2 H240.2"/>
<path d="M245.2,173.6 H246.9 V194.6"/>
<path d="M250.6,173.6 H252.3 V194.6 H246.9"/>
</g>
<circle cx="244.3" cy="189.3" r="1.1" fill="#111"/>
<circle cx="244.3" cy="192.8" r="1.1" fill="#111"/>
<circle cx="244.3" cy="196.7" r="1.1" fill="#111"/>
<circle cx="250" cy="180.3" r="1.1" fill="#111"/>
<circle cx="250" cy="184.2" r="1.1" fill="#111"/>
<circle cx="250" cy="188.1" r="1.1" fill="#111"/>
<circle cx="255.8" cy="179.7" r="1.1" fill="#111"/>
<circle cx="255.8" cy="183.8" r="1.1" fill="#111"/>
<circle cx="255.8" cy="187.8" r="1.1" fill="#111"/>
<text transform="translate(285.2,162.5) scale(0.71,1)" font-family='"Liberation Serif", serif' font-size="14.8" font-weight="bold" fill="#000" stroke="#000" stroke-width="0.3">C</text>
<line x1="323.00" y1="263.50" x2="323.00" y2="169.00" stroke="#000" stroke-width="1.3" />
<line x1="322.40" y1="263.50" x2="417.50" y2="263.50" stroke="#000" stroke-width="1.3" />
<line x1="319.60" y1="263.50" x2="323.00" y2="263.50" stroke="#000" stroke-width="1.2" />
<text x="318.2" y="266.5" font-family='"Liberation Sans", sans-serif' font-size="8.2" font-weight="bold" fill="#000" text-anchor="end" stroke="#000" stroke-width="0.18" >0</text>
<line x1="319.60" y1="240.00" x2="323.00" y2="240.00" stroke="#000" stroke-width="1.2" />
<text x="318.2" y="243.0" font-family='"Liberation Sans", sans-serif' font-size="8.2" font-weight="bold" fill="#000" text-anchor="end" stroke="#000" stroke-width="0.18" >1</text>
<line x1="319.60" y1="216.50" x2="323.00" y2="216.50" stroke="#000" stroke-width="1.2" />
<text x="318.2" y="219.5" font-family='"Liberation Sans", sans-serif' font-size="8.2" font-weight="bold" fill="#000" text-anchor="end" stroke="#000" stroke-width="0.18" >2</text>
<line x1="319.60" y1="193.00" x2="323.00" y2="193.00" stroke="#000" stroke-width="1.2" />
<text x="318.2" y="196.0" font-family='"Liberation Sans", sans-serif' font-size="8.2" font-weight="bold" fill="#000" text-anchor="end" stroke="#000" stroke-width="0.18" >3</text>
<line x1="319.60" y1="169.50" x2="323.00" y2="169.50" stroke="#000" stroke-width="1.2" />
<text x="318.2" y="172.5" font-family='"Liberation Sans", sans-serif' font-size="8.2" font-weight="bold" fill="#000" text-anchor="end" stroke="#000" stroke-width="0.18" >4</text>
<rect x="330.60" y="199.11" width="14.20" height="64.39" fill="#1aa6f2"/>
<line x1="337.70" y1="199.11" x2="337.70" y2="195.58" stroke="#1aa6f2" stroke-width="0.9" />
<line x1="334.70" y1="195.58" x2="340.70" y2="195.58" stroke="#1aa6f2" stroke-width="0.9" />
<rect x="352.20" y="204.52" width="14.20" height="58.98" fill="#0404c4"/>
<line x1="359.30" y1="204.52" x2="359.30" y2="198.17" stroke="#4040d0" stroke-width="0.9" />
<line x1="356.30" y1="198.17" x2="362.30" y2="198.17" stroke="#4040d0" stroke-width="0.9" />
<rect x="373.90" y="211.09" width="14.20" height="52.41" fill="#a2a2aa"/>
<line x1="381.00" y1="211.09" x2="381.00" y2="205.46" stroke="#a0a0a8" stroke-width="0.9" />
<line x1="378.00" y1="205.46" x2="384.00" y2="205.46" stroke="#a0a0a8" stroke-width="0.9" />
<rect x="395.80" y="211.80" width="14.20" height="51.70" fill="#7eaee0"/>
<line x1="402.90" y1="211.80" x2="402.90" y2="206.39" stroke="#7eaee0" stroke-width="0.9" />
<line x1="399.90" y1="206.39" x2="405.90" y2="206.39" stroke="#7eaee0" stroke-width="0.9" />
<text x="338.6" y="275.2" font-family='"Liberation Sans", sans-serif' font-size="7.6" font-weight="bold" fill="#000" text-anchor="middle" stroke="#000" stroke-width="0.18" >ND</text>
<text x="359.4" y="275.2" font-family='"Liberation Sans", sans-serif' font-size="7.6" font-weight="bold" fill="#000" text-anchor="middle" stroke="#000" stroke-width="0.18" >HFD</text>
<text x="381" y="275.2" font-family='"Liberation Sans", sans-serif' font-size="7.6" font-weight="bold" fill="#000" text-anchor="middle" stroke="#000" stroke-width="0.18" >50</text>
<text x="402.9" y="275.2" font-family='"Liberation Sans", sans-serif' font-size="7.6" font-weight="bold" fill="#000" text-anchor="middle" stroke="#000" stroke-width="0.18" >100</text>
<line x1="337.70" y1="263.50" x2="337.70" y2="266.30" stroke="#000" stroke-width="1.0" />
<line x1="359.30" y1="263.50" x2="359.30" y2="266.30" stroke="#000" stroke-width="1.0" />
<line x1="381.00" y1="263.50" x2="381.00" y2="266.30" stroke="#000" stroke-width="1.0" />
<line x1="402.90" y1="263.50" x2="402.90" y2="266.30" stroke="#000" stroke-width="1.0" />
<line x1="379.50" y1="278.50" x2="405.70" y2="278.50" stroke="#999" stroke-width="1.2" />
<text x="398" y="289.2" font-family='"Liberation Sans", sans-serif' font-size="7.8" font-weight="bold" text-anchor="middle">HFD+Rg<tspan font-size="5.5" dy="1.4">5</tspan><tspan dy="-1.4">(mg/kg)</tspan></text>
<text transform="translate(309.20,215.30) rotate(-90)" font-family='"Liberation Serif", serif' font-size="9.0" font-weight="bold" fill="#000" text-anchor="middle" stroke="#000" stroke-width="0.18">Food intake (g/d/mouse)</text>
<text transform="translate(8.5,321.9) scale(0.6,1)" font-family='"Liberation Serif", serif' font-size="13.6" font-weight="bold" fill="#000" stroke="#000" stroke-width="0.3">D</text>
<line x1="53.00" y1="420.20" x2="53.00" y2="328.70" stroke="#000" stroke-width="1.3" />
<line x1="52.40" y1="420.20" x2="189.80" y2="420.20" stroke="#000" stroke-width="1.3" />
<line x1="49.40" y1="420.20" x2="53.00" y2="420.20" stroke="#000" stroke-width="1.2" />
<text x="48.2" y="423.2" font-family='"Liberation Sans", sans-serif' font-size="8.4" font-weight="bold" fill="#000" text-anchor="end" stroke="#000" stroke-width="0.18" >0</text>
<line x1="49.40" y1="389.87" x2="53.00" y2="389.87" stroke="#000" stroke-width="1.2" />
<text x="48.2" y="392.8666666666667" font-family='"Liberation Sans", sans-serif' font-size="8.4" font-weight="bold" fill="#000" text-anchor="end" stroke="#000" stroke-width="0.18" >10</text>
<line x1="49.40" y1="359.53" x2="53.00" y2="359.53" stroke="#000" stroke-width="1.2" />
<text x="48.2" y="362.5333333333333" font-family='"Liberation Sans", sans-serif' font-size="8.4" font-weight="bold" fill="#000" text-anchor="end" stroke="#000" stroke-width="0.18" >20</text>
<line x1="49.40" y1="329.20" x2="53.00" y2="329.20" stroke="#000" stroke-width="1.2" />
<text x="48.2" y="332.2" font-family='"Liberation Sans", sans-serif' font-size="8.4" font-weight="bold" fill="#000" text-anchor="end" stroke="#000" stroke-width="0.18" >30</text>
<line x1="53.00" y1="420.20" x2="53.00" y2="423.60" stroke="#000" stroke-width="1.2" />
<text x="53.0" y="433.3" font-family='"Liberation Sans", sans-serif' font-size="8.4" font-weight="bold" fill="#000" text-anchor="middle" stroke="#000" stroke-width="0.18" >0</text>
<line x1="71.00" y1="420.20" x2="71.00" y2="423.60" stroke="#000" stroke-width="1.2" />
<text x="71.0" y="433.3" font-family='"Liberation Sans", sans-serif' font-size="8.4" font-weight="bold" fill="#000" text-anchor="middle" stroke="#000" stroke-width="0.18" >20</text>
<line x1="89.00" y1="420.20" x2="89.00" y2="423.60" stroke="#000" stroke-width="1.2" />
<text x="89.0" y="433.3" font-family='"Liberation Sans", sans-serif' font-size="8.4" font-weight="bold" fill="#000" text-anchor="middle" stroke="#000" stroke-width="0.18" >40</text>
<line x1="107.00" y1="420.20" x2="107.00" y2="423.60" stroke="#000" stroke-width="1.2" />
<text x="107.0" y="433.3" font-family='"Liberation Sans", sans-serif' font-size="8.4" font-weight="bold" fill="#000" text-anchor="middle" stroke="#000" stroke-width="0.18" >60</text>
<line x1="125.00" y1="420.20" x2="125.00" y2="423.60" stroke="#000" stroke-width="1.2" />
<text x="125.0" y="433.3" font-family='"Liberation Sans", sans-serif' font-size="8.4" font-weight="bold" fill="#000" text-anchor="middle" stroke="#000" stroke-width="0.18" >80</text>
<line x1="143.00" y1="420.20" x2="143.00" y2="423.60" stroke="#000" stroke-width="1.2" />
<text x="143.0" y="433.3" font-family='"Liberation Sans", sans-serif' font-size="8.4" font-weight="bold" fill="#000" text-anchor="middle" stroke="#000" stroke-width="0.18" >100</text>
<line x1="161.00" y1="420.20" x2="161.00" y2="423.60" stroke="#000" stroke-width="1.2" />
<text x="161.0" y="433.3" font-family='"Liberation Sans", sans-serif' font-size="8.4" font-weight="bold" fill="#000" text-anchor="middle" stroke="#000" stroke-width="0.18" >120</text>
<line x1="179.00" y1="420.20" x2="179.00" y2="423.60" stroke="#000" stroke-width="1.2" />
<text x="179.0" y="433.3" font-family='"Liberation Sans", sans-serif' font-size="8.4" font-weight="bold" fill="#000" text-anchor="middle" stroke="#000" stroke-width="0.18" >140</text>
<text transform="translate(33.60,373.70) rotate(-90)" font-family='"Liberation Serif", serif' font-size="8.6" font-weight="bold" fill="#000" text-anchor="middle" stroke="#000" stroke-width="0.18">Fasting blood glucose (mmol/L)</text>
<text x="118.9" y="446" font-family='"Liberation Serif", serif' font-size="8.6" font-weight="bold" fill="#000" text-anchor="middle" stroke="#000" stroke-width="0.18" >(Time/min)</text>
<g stroke="#3a963a" stroke-width="0.8" opacity="0.85"><line x1="53.00" y1="392.90" x2="53.00" y2="397.75"/><line x1="51.50" y1="392.90" x2="54.50" y2="392.90"/><line x1="51.50" y1="397.75" x2="54.50" y2="397.75"/></g>
<g stroke="#3a963a" stroke-width="0.8" opacity="0.85"><line x1="66.50" y1="358.32" x2="66.50" y2="368.03"/><line x1="65.00" y1="358.32" x2="68.00" y2="358.32"/><line x1="65.00" y1="368.03" x2="68.00" y2="368.03"/></g>
<g stroke="#3a963a" stroke-width="0.8" opacity="0.85"><line x1="80.00" y1="363.78" x2="80.00" y2="380.77"/><line x1="78.50" y1="363.78" x2="81.50" y2="363.78"/><line x1="78.50" y1="380.77" x2="81.50" y2="380.77"/></g>
<g stroke="#3a963a" stroke-width="0.8" opacity="0.85"><line x1="107.00" y1="379.86" x2="107.00" y2="388.35"/><line x1="105.50" y1="379.86" x2="108.50" y2="379.86"/><line x1="105.50" y1="388.35" x2="108.50" y2="388.35"/></g>
<g stroke="#3a963a" stroke-width="0.8" opacity="0.85"><line x1="134.00" y1="388.05" x2="134.00" y2="393.51"/><line x1="132.50" y1="388.05" x2="135.50" y2="388.05"/><line x1="132.50" y1="393.51" x2="135.50" y2="393.51"/></g>
<g stroke="#3a963a" stroke-width="0.8" opacity="0.85"><line x1="161.00" y1="391.99" x2="161.00" y2="396.24"/><line x1="159.50" y1="391.99" x2="162.50" y2="391.99"/><line x1="159.50" y1="396.24" x2="162.50" y2="396.24"/></g>
<g stroke="#4a4aee" stroke-width="0.8" opacity="0.85"><line x1="53.00" y1="392.29" x2="53.00" y2="397.15"/><line x1="51.50" y1="392.29" x2="54.50" y2="392.29"/><line x1="51.50" y1="397.15" x2="54.50" y2="397.15"/></g>
<g stroke="#4a4aee" stroke-width="0.8" opacity="0.85"><line x1="66.50" y1="360.44" x2="66.50" y2="371.36"/><line x1="65.00" y1="360.44" x2="68.00" y2="360.44"/><line x1="65.00" y1="371.36" x2="68.00" y2="371.36"/></g>
<g stroke="#4a4aee" stroke-width="0.8" opacity="0.85"><line x1="80.00" y1="362.87" x2="80.00" y2="383.50"/><line x1="78.50" y1="362.87" x2="81.50" y2="362.87"/><line x1="78.50" y1="383.50" x2="81.50" y2="383.50"/></g>
<g stroke="#4a4aee" stroke-width="0.8" opacity="0.85"><line x1="107.00" y1="377.13" x2="107.00" y2="389.26"/><line x1="105.50" y1="377.13" x2="108.50" y2="377.13"/><line x1="105.50" y1="389.26" x2="108.50" y2="389.26"/></g>
<g stroke="#4a4aee" stroke-width="0.8" opacity="0.85"><line x1="134.00" y1="386.53" x2="134.00" y2="392.60"/><line x1="132.50" y1="386.53" x2="135.50" y2="386.53"/><line x1="132.50" y1="392.60" x2="135.50" y2="392.60"/></g>
<g stroke="#4a4aee" stroke-width="0.8" opacity="0.85"><line x1="161.00" y1="389.87" x2="161.00" y2="394.72"/><line x1="159.50" y1="389.87" x2="162.50" y2="389.87"/><line x1="159.50" y1="394.72" x2="162.50" y2="394.72"/></g>
<g stroke="#333" stroke-width="0.8" opacity="0.85"><line x1="53.00" y1="393.81" x2="53.00" y2="399.88"/><line x1="51.50" y1="393.81" x2="54.50" y2="393.81"/><line x1="51.50" y1="399.88" x2="54.50" y2="399.88"/></g>
<g stroke="#333" stroke-width="0.8" opacity="0.85"><line x1="66.50" y1="364.39" x2="66.50" y2="373.49"/><line x1="65.00" y1="364.39" x2="68.00" y2="364.39"/><line x1="65.00" y1="373.49" x2="68.00" y2="373.49"/></g>
<g stroke="#333" stroke-width="0.8" opacity="0.85"><line x1="80.00" y1="367.12" x2="80.00" y2="382.28"/><line x1="78.50" y1="367.12" x2="81.50" y2="367.12"/><line x1="78.50" y1="382.28" x2="81.50" y2="382.28"/></g>
<g stroke="#333" stroke-width="0.8" opacity="0.85"><line x1="107.00" y1="387.14" x2="107.00" y2="391.99"/><line x1="105.50" y1="387.14" x2="108.50" y2="387.14"/><line x1="105.50" y1="391.99" x2="108.50" y2="391.99"/></g>
<g stroke="#333" stroke-width="0.8" opacity="0.85"><line x1="134.00" y1="392.29" x2="134.00" y2="397.75"/><line x1="132.50" y1="392.29" x2="135.50" y2="392.29"/><line x1="132.50" y1="397.75" x2="135.50" y2="397.75"/></g>
<g stroke="#333" stroke-width="0.8" opacity="0.85"><line x1="161.00" y1="395.93" x2="161.00" y2="399.57"/><line x1="159.50" y1="395.93" x2="162.50" y2="395.93"/><line x1="159.50" y1="399.57" x2="162.50" y2="399.57"/></g>
<g stroke="#ee4848" stroke-width="0.8" opacity="0.85"><line x1="53.00" y1="388.96" x2="53.00" y2="392.60"/><line x1="51.50" y1="388.96" x2="54.50" y2="388.96"/><line x1="51.50" y1="392.60" x2="54.50" y2="392.60"/></g>
<g stroke="#ee4848" stroke-width="0.8" opacity="0.85"><line x1="66.50" y1="339.82" x2="66.50" y2="375.61"/><line x1="65.00" y1="339.82" x2="68.00" y2="339.82"/><line x1="65.00" y1="375.61" x2="68.00" y2="375.61"/></g>
<g stroke="#ee4848" stroke-width="0.8" opacity="0.85"><line x1="80.00" y1="348.01" x2="80.00" y2="370.45"/><line x1="78.50" y1="348.01" x2="81.50" y2="348.01"/><line x1="78.50" y1="370.45" x2="81.50" y2="370.45"/></g>
<g stroke="#ee4848" stroke-width="0.8" opacity="0.85"><line x1="107.00" y1="371.97" x2="107.00" y2="392.60"/><line x1="105.50" y1="371.97" x2="108.50" y2="371.97"/><line x1="105.50" y1="392.60" x2="108.50" y2="392.60"/></g>
<g stroke="#ee4848" stroke-width="0.8" opacity="0.85"><line x1="134.00" y1="382.28" x2="134.00" y2="393.81"/><line x1="132.50" y1="382.28" x2="135.50" y2="382.28"/><line x1="132.50" y1="393.81" x2="135.50" y2="393.81"/></g>
<g stroke="#ee4848" stroke-width="0.8" opacity="0.85"><line x1="161.00" y1="381.37" x2="161.00" y2="392.29"/><line x1="159.50" y1="381.37" x2="162.50" y2="381.37"/><line x1="159.50" y1="392.29" x2="162.50" y2="392.29"/></g>
<polyline points="53.00,395.33 66.50,363.17 80.00,372.27 107.00,384.10 134.00,390.78 161.00,394.11" fill="none" stroke="#1a7a1a" stroke-width="1.2"/>
<path d="M53.00,397.51 L55.09,393.90 L50.91,393.90 Z" fill="#1a7a1a"/>
<path d="M66.50,365.36 L68.59,361.75 L64.41,361.75 Z" fill="#1a7a1a"/>
<path d="M80.00,374.46 L82.09,370.85 L77.91,370.85 Z" fill="#1a7a1a"/>
<path d="M107.00,386.29 L109.09,382.68 L104.91,382.68 Z" fill="#1a7a1a"/>
<path d="M134.00,392.96 L136.09,389.35 L131.91,389.35 Z" fill="#1a7a1a"/>
<path d="M161.00,396.30 L163.09,392.69 L158.91,392.69 Z" fill="#1a7a1a"/>
<polyline points="53.00,394.72 66.50,365.90 80.00,373.18 107.00,383.19 134.00,389.56 161.00,392.29" fill="none" stroke="#1a1ae0" stroke-width="1.2"/>
<path d="M53.00,392.53 L55.09,396.14 L50.91,396.14 Z" fill="#1a1ae0"/>
<path d="M66.50,363.72 L68.59,367.33 L64.41,367.33 Z" fill="#1a1ae0"/>
<path d="M80.00,371.00 L82.09,374.61 L77.91,374.61 Z" fill="#1a1ae0"/>
<path d="M107.00,381.01 L109.09,384.62 L104.91,384.62 Z" fill="#1a1ae0"/>
<path d="M134.00,387.38 L136.09,390.99 L131.91,390.99 Z" fill="#1a1ae0"/>
<path d="M161.00,390.11 L163.09,393.72 L158.91,393.72 Z" fill="#1a1ae0"/>
<polyline points="53.00,396.84 66.50,368.94 80.00,374.70 107.00,389.56 134.00,395.02 161.00,397.75" fill="none" stroke="#000" stroke-width="1.2"/>
<circle cx="53.00" cy="396.84" r="1.90" fill="#000"/>
<circle cx="66.50" cy="368.94" r="1.90" fill="#000"/>
<circle cx="80.00" cy="374.70" r="1.90" fill="#000"/>
<circle cx="107.00" cy="389.56" r="1.90" fill="#000"/>
<circle cx="134.00" cy="395.02" r="1.90" fill="#000"/>
<circle cx="161.00" cy="397.75" r="1.90" fill="#000"/>
<polyline points="53.00,390.78 66.50,357.71 80.00,359.23 107.00,382.28 134.00,388.05 161.00,386.83" fill="none" stroke="#e81818" stroke-width="1.2"/>
<rect x="51.00" y="388.78" width="4.00" height="4.00" fill="#e81818"/>
<rect x="64.50" y="355.71" width="4.00" height="4.00" fill="#e81818"/>
<rect x="78.00" y="357.23" width="4.00" height="4.00" fill="#e81818"/>
<rect x="105.00" y="380.28" width="4.00" height="4.00" fill="#e81818"/>
<rect x="132.00" y="386.05" width="4.00" height="4.00" fill="#e81818"/>
<rect x="159.00" y="384.83" width="4.00" height="4.00" fill="#e81818"/>
<line x1="103.00" y1="324.40" x2="112.60" y2="324.40" stroke="#000" stroke-width="1.3" />
<circle cx="107.80" cy="324.40" r="1.75" fill="#000"/>
<text x="118.6" y="327.29999999999995" font-family='"Liberation Serif", serif' font-size="8.4" font-weight="bold" fill="#000" text-anchor="start" stroke="#000" stroke-width="0.18" >ND</text>
<line x1="103.00" y1="337.07" x2="112.60" y2="337.07" stroke="#e81818" stroke-width="1.3" />
<rect x="106.05" y="335.32" width="3.50" height="3.50" fill="#e81818"/>
<text x="118.6" y="339.96999999999997" font-family='"Liberation Serif", serif' font-size="8.4" font-weight="bold" fill="#000" text-anchor="start" stroke="#000" stroke-width="0.18" >HFD</text>
<line x1="103.00" y1="349.74" x2="112.60" y2="349.74" stroke="#1a1ae0" stroke-width="1.3" />
<path d="M107.80,347.73 L109.72,351.05 L105.88,351.05 Z" fill="#1a1ae0"/>
<text x="118.6" y="352.63999999999993" font-family='"Liberation Serif", serif' font-size="8.4" font-weight="bold" fill="#000" text-anchor="start" stroke="#000" stroke-width="0.18" >HFD+Rg<tspan font-size="5.88" dy="1.51">5</tspan><tspan dy="-1.51">(50mg/kg)</tspan></text>
<line x1="103.00" y1="362.41" x2="112.60" y2="362.41" stroke="#1a7a1a" stroke-width="1.3" />
<path d="M107.80,364.42 L109.72,361.10 L105.88,361.10 Z" fill="#1a7a1a"/>
<text x="118.6" y="365.30999999999995" font-family='"Liberation Serif", serif' font-size="8.4" font-weight="bold" fill="#000" text-anchor="start" stroke="#000" stroke-width="0.18" >HFD+Rg<tspan font-size="5.88" dy="1.51">5</tspan><tspan dy="-1.51">(100mg/kg)</tspan></text>
<line x1="217.40" y1="410.60" x2="217.40" y2="352.30" stroke="#333" stroke-width="0.7" />
<line x1="217.10" y1="410.60" x2="275.05" y2="410.60" stroke="#333" stroke-width="0.8" />
<line x1="215.00" y1="410.60" x2="217.40" y2="410.60" stroke="#333" stroke-width="0.6" />
<text x="215.20000000000002" y="412.40000000000003" font-family='"Liberation Sans", sans-serif' font-size="5.0" font-weight="bold" fill="#222" text-anchor="end" >0</text>
<line x1="215.00" y1="399.00" x2="217.40" y2="399.00" stroke="#333" stroke-width="0.6" />
<text x="215.20000000000002" y="400.8" font-family='"Liberation Sans", sans-serif' font-size="5.0" font-weight="bold" fill="#222" text-anchor="end" >500</text>
<line x1="215.00" y1="387.40" x2="217.40" y2="387.40" stroke="#333" stroke-width="0.6" />
<text x="215.20000000000002" y="389.20000000000005" font-family='"Liberation Sans", sans-serif' font-size="5.0" font-weight="bold" fill="#222" text-anchor="end" >1000</text>
<line x1="215.00" y1="375.80" x2="217.40" y2="375.80" stroke="#333" stroke-width="0.6" />
<text x="215.20000000000002" y="377.6" font-family='"Liberation Sans", sans-serif' font-size="5.0" font-weight="bold" fill="#222" text-anchor="end" >1500</text>
<line x1="215.00" y1="364.20" x2="217.40" y2="364.20" stroke="#333" stroke-width="0.6" />
<text x="215.20000000000002" y="366.00000000000006" font-family='"Liberation Sans", sans-serif' font-size="5.0" font-weight="bold" fill="#222" text-anchor="end" >2000</text>
<line x1="215.00" y1="352.60" x2="217.40" y2="352.60" stroke="#333" stroke-width="0.6" />
<text x="215.20000000000002" y="354.40000000000003" font-family='"Liberation Sans", sans-serif' font-size="5.0" font-weight="bold" fill="#222" text-anchor="end" >2500</text>
<rect x="221.75" y="380.44" width="8.60" height="30.16" fill="#8686f8"/>
<line x1="226.05" y1="380.44" x2="226.05" y2="379.05" stroke="#8686f8" stroke-width="0.6" />
<line x1="224.45" y1="379.05" x2="227.65" y2="379.05" stroke="#8686f8" stroke-width="0.6" />
<line x1="226.05" y1="410.60" x2="226.05" y2="412.20" stroke="#333" stroke-width="0.6" />
<rect x="235.05" y="371.39" width="8.60" height="39.21" fill="#5050f0"/>
<line x1="239.35" y1="371.39" x2="239.35" y2="365.36" stroke="#5050f0" stroke-width="0.6" />
<line x1="237.75" y1="365.36" x2="240.95" y2="365.36" stroke="#5050f0" stroke-width="0.6" />
<line x1="239.35" y1="410.60" x2="239.35" y2="412.20" stroke="#333" stroke-width="0.6" />
<rect x="248.10" y="376.03" width="8.60" height="34.57" fill="#0aa0f8"/>
<line x1="252.40" y1="376.03" x2="252.40" y2="372.55" stroke="#0aa0f8" stroke-width="0.6" />
<line x1="250.80" y1="372.55" x2="254.00" y2="372.55" stroke="#0aa0f8" stroke-width="0.6" />
<line x1="252.40" y1="410.60" x2="252.40" y2="412.20" stroke="#333" stroke-width="0.6" />
<rect x="261.75" y="376.50" width="8.60" height="34.10" fill="#0000c0"/>
<line x1="266.05" y1="376.50" x2="266.05" y2="373.94" stroke="#0000c0" stroke-width="0.6" />
<line x1="264.45" y1="373.94" x2="267.65" y2="373.94" stroke="#0000c0" stroke-width="0.6" />
<line x1="266.05" y1="410.60" x2="266.05" y2="412.20" stroke="#333" stroke-width="0.6" />
<text transform="translate(227.45,416.20) rotate(-45)" font-family='"Liberation Serif", serif' font-size="4.6" font-weight="bold" fill="#333" text-anchor="end">ND</text>
<text transform="translate(240.75,416.20) rotate(-45)" font-family='"Liberation Serif", serif' font-size="4.6" font-weight="bold" fill="#333" text-anchor="end">HFD</text>
<text transform="translate(253.80,416.20) rotate(-45)" font-family='"Liberation Serif", serif' font-size="4.6" font-weight="bold" fill="#333" text-anchor="end">HFD+Rg<tspan font-size="3" dy="0.8">5</tspan><tspan dy="-0.8">(50mg/kg)</tspan></text>
<text transform="translate(267.45,416.20) rotate(-45)" font-family='"Liberation Serif", serif' font-size="4.6" font-weight="bold" fill="#333" text-anchor="end">HFD+Rg<tspan font-size="3" dy="0.8">5</tspan><tspan dy="-0.8">(100mg/kg)</tspan></text>
<path d="M225.9,376.3 V356.3 H238.4 V359.9" fill="none" stroke="#444" stroke-width="0.7"/>
<path d="M232.20,349.60 L232.20,351.40 M231.42,350.05 L232.98,350.95 M232.98,350.05 L231.42,350.95" stroke="#333" stroke-width="0.55" fill="none"/>
<text transform="translate(200.90,381.40) rotate(-90)" font-family='"Liberation Serif", serif' font-size="4.75" font-weight="bold" fill="#111" text-anchor="middle">Area under the OGTT curve</text>
<text transform="translate(283.5,322) scale(0.6,1)" font-family='"Liberation Serif", serif' font-size="13.6" font-weight="bold" fill="#000" stroke="#000" stroke-width="0.3">E</text>
<line x1="326.00" y1="418.70" x2="326.00" y2="327.60" stroke="#000" stroke-width="1.3" />
<line x1="325.40" y1="418.70" x2="462.00" y2="418.70" stroke="#000" stroke-width="1.3" />
<line x1="322.40" y1="418.70" x2="326.00" y2="418.70" stroke="#000" stroke-width="1.2" />
<text x="321.2" y="421.7" font-family='"Liberation Sans", sans-serif' font-size="8.4" font-weight="bold" fill="#000" text-anchor="end" stroke="#000" stroke-width="0.18" >0</text>
<line x1="322.40" y1="388.50" x2="326.00" y2="388.50" stroke="#000" stroke-width="1.2" />
<text x="321.2" y="391.5" font-family='"Liberation Sans", sans-serif' font-size="8.4" font-weight="bold" fill="#000" text-anchor="end" stroke="#000" stroke-width="0.18" >5</text>
<line x1="322.40" y1="358.30" x2="326.00" y2="358.30" stroke="#000" stroke-width="1.2" />
<text x="321.2" y="361.3" font-family='"Liberation Sans", sans-serif' font-size="8.4" font-weight="bold" fill="#000" text-anchor="end" stroke="#000" stroke-width="0.18" >10</text>
<line x1="322.40" y1="328.10" x2="326.00" y2="328.10" stroke="#000" stroke-width="1.2" />
<text x="321.2" y="331.1" font-family='"Liberation Sans", sans-serif' font-size="8.4" font-weight="bold" fill="#000" text-anchor="end" stroke="#000" stroke-width="0.18" >15</text>
<line x1="326.00" y1="418.70" x2="326.00" y2="422.10" stroke="#000" stroke-width="1.2" />
<text x="326.0" y="431.6" font-family='"Liberation Sans", sans-serif' font-size="8.4" font-weight="bold" fill="#000" text-anchor="middle" stroke="#000" stroke-width="0.18" >0</text>
<line x1="344.00" y1="418.70" x2="344.00" y2="422.10" stroke="#000" stroke-width="1.2" />
<text x="344.0" y="431.6" font-family='"Liberation Sans", sans-serif' font-size="8.4" font-weight="bold" fill="#000" text-anchor="middle" stroke="#000" stroke-width="0.18" >20</text>
<line x1="362.00" y1="418.70" x2="362.00" y2="422.10" stroke="#000" stroke-width="1.2" />
<text x="362.0" y="431.6" font-family='"Liberation Sans", sans-serif' font-size="8.4" font-weight="bold" fill="#000" text-anchor="middle" stroke="#000" stroke-width="0.18" >40</text>
<line x1="380.00" y1="418.70" x2="380.00" y2="422.10" stroke="#000" stroke-width="1.2" />
<text x="380.0" y="431.6" font-family='"Liberation Sans", sans-serif' font-size="8.4" font-weight="bold" fill="#000" text-anchor="middle" stroke="#000" stroke-width="0.18" >60</text>
<line x1="398.00" y1="418.70" x2="398.00" y2="422.10" stroke="#000" stroke-width="1.2" />
<text x="398.0" y="431.6" font-family='"Liberation Sans", sans-serif' font-size="8.4" font-weight="bold" fill="#000" text-anchor="middle" stroke="#000" stroke-width="0.18" >80</text>
<line x1="416.00" y1="418.70" x2="416.00" y2="422.10" stroke="#000" stroke-width="1.2" />
<text x="416.0" y="431.6" font-family='"Liberation Sans", sans-serif' font-size="8.4" font-weight="bold" fill="#000" text-anchor="middle" stroke="#000" stroke-width="0.18" >100</text>
<line x1="434.00" y1="418.70" x2="434.00" y2="422.10" stroke="#000" stroke-width="1.2" />
<text x="434.0" y="431.6" font-family='"Liberation Sans", sans-serif' font-size="8.4" font-weight="bold" fill="#000" text-anchor="middle" stroke="#000" stroke-width="0.18" >120</text>
<line x1="452.00" y1="418.70" x2="452.00" y2="422.10" stroke="#000" stroke-width="1.2" />
<text x="452.0" y="431.6" font-family='"Liberation Sans", sans-serif' font-size="8.4" font-weight="bold" fill="#000" text-anchor="middle" stroke="#000" stroke-width="0.18" >140</text>
<text transform="translate(306.60,372.40) rotate(-90)" font-family='"Liberation Serif", serif' font-size="8.6" font-weight="bold" fill="#000" text-anchor="middle" stroke="#000" stroke-width="0.18">Fasting insulin level(mmol/L)</text>
<text x="394" y="444" font-family='"Liberation Serif", serif' font-size="8.6" font-weight="bold" fill="#000" text-anchor="middle" stroke="#000" stroke-width="0.18" >(Time/min)</text>
<g stroke="#3a963a" stroke-width="0.8" opacity="0.85"><line x1="326.00" y1="363.43" x2="326.00" y2="369.47"/><line x1="324.50" y1="363.43" x2="327.50" y2="363.43"/><line x1="324.50" y1="369.47" x2="327.50" y2="369.47"/></g>
<g stroke="#3a963a" stroke-width="0.8" opacity="0.85"><line x1="339.50" y1="370.68" x2="339.50" y2="381.55"/><line x1="338.00" y1="370.68" x2="341.00" y2="370.68"/><line x1="338.00" y1="381.55" x2="341.00" y2="381.55"/></g>
<g stroke="#3a963a" stroke-width="0.8" opacity="0.85"><line x1="353.00" y1="368.57" x2="353.00" y2="384.27"/><line x1="351.50" y1="368.57" x2="354.50" y2="368.57"/><line x1="351.50" y1="384.27" x2="354.50" y2="384.27"/></g>
<g stroke="#3a963a" stroke-width="0.8" opacity="0.85"><line x1="380.00" y1="374.61" x2="380.00" y2="387.90"/><line x1="378.50" y1="374.61" x2="381.50" y2="374.61"/><line x1="378.50" y1="387.90" x2="381.50" y2="387.90"/></g>
<g stroke="#3a963a" stroke-width="0.8" opacity="0.85"><line x1="407.00" y1="381.25" x2="407.00" y2="392.12"/><line x1="405.50" y1="381.25" x2="408.50" y2="381.25"/><line x1="405.50" y1="392.12" x2="408.50" y2="392.12"/></g>
<g stroke="#3a963a" stroke-width="0.8" opacity="0.85"><line x1="434.00" y1="380.04" x2="434.00" y2="392.12"/><line x1="432.50" y1="380.04" x2="435.50" y2="380.04"/><line x1="432.50" y1="392.12" x2="435.50" y2="392.12"/></g>
<g stroke="#4a4aee" stroke-width="0.8" opacity="0.85"><line x1="326.00" y1="363.74" x2="326.00" y2="370.98"/><line x1="324.50" y1="363.74" x2="327.50" y2="363.74"/><line x1="324.50" y1="370.98" x2="327.50" y2="370.98"/></g>
<g stroke="#4a4aee" stroke-width="0.8" opacity="0.85"><line x1="339.50" y1="369.17" x2="339.50" y2="381.25"/><line x1="338.00" y1="369.17" x2="341.00" y2="369.17"/><line x1="338.00" y1="381.25" x2="341.00" y2="381.25"/></g>
<g stroke="#4a4aee" stroke-width="0.8" opacity="0.85"><line x1="353.00" y1="371.59" x2="353.00" y2="390.92"/><line x1="351.50" y1="371.59" x2="354.50" y2="371.59"/><line x1="351.50" y1="390.92" x2="354.50" y2="390.92"/></g>
<g stroke="#4a4aee" stroke-width="0.8" opacity="0.85"><line x1="380.00" y1="375.21" x2="380.00" y2="390.92"/><line x1="378.50" y1="375.21" x2="381.50" y2="375.21"/><line x1="378.50" y1="390.92" x2="381.50" y2="390.92"/></g>
<g stroke="#4a4aee" stroke-width="0.8" opacity="0.85"><line x1="407.00" y1="380.65" x2="407.00" y2="392.73"/><line x1="405.50" y1="380.65" x2="408.50" y2="380.65"/><line x1="405.50" y1="392.73" x2="408.50" y2="392.73"/></g>
<g stroke="#4a4aee" stroke-width="0.8" opacity="0.85"><line x1="434.00" y1="376.42" x2="434.00" y2="393.33"/><line x1="432.50" y1="376.42" x2="435.50" y2="376.42"/><line x1="432.50" y1="393.33" x2="435.50" y2="393.33"/></g>
<g stroke="#333" stroke-width="0.8" opacity="0.85"><line x1="326.00" y1="366.76" x2="326.00" y2="372.80"/><line x1="324.50" y1="366.76" x2="327.50" y2="366.76"/><line x1="324.50" y1="372.80" x2="327.50" y2="372.80"/></g>
<g stroke="#333" stroke-width="0.8" opacity="0.85"><line x1="339.50" y1="370.38" x2="339.50" y2="394.54"/><line x1="338.00" y1="370.38" x2="341.00" y2="370.38"/><line x1="338.00" y1="394.54" x2="341.00" y2="394.54"/></g>
<g stroke="#333" stroke-width="0.8" opacity="0.85"><line x1="353.00" y1="374.61" x2="353.00" y2="395.14"/><line x1="351.50" y1="374.61" x2="354.50" y2="374.61"/><line x1="351.50" y1="395.14" x2="354.50" y2="395.14"/></g>
<g stroke="#333" stroke-width="0.8" opacity="0.85"><line x1="380.00" y1="389.71" x2="380.00" y2="393.33"/><line x1="378.50" y1="389.71" x2="381.50" y2="389.71"/><line x1="378.50" y1="393.33" x2="381.50" y2="393.33"/></g>
<g stroke="#333" stroke-width="0.8" opacity="0.85"><line x1="407.00" y1="380.65" x2="407.00" y2="392.73"/><line x1="405.50" y1="380.65" x2="408.50" y2="380.65"/><line x1="405.50" y1="392.73" x2="408.50" y2="392.73"/></g>
<g stroke="#333" stroke-width="0.8" opacity="0.85"><line x1="434.00" y1="377.02" x2="434.00" y2="384.27"/><line x1="432.50" y1="377.02" x2="435.50" y2="377.02"/><line x1="432.50" y1="384.27" x2="435.50" y2="384.27"/></g>
<g stroke="#ee4848" stroke-width="0.8" opacity="0.85"><line x1="326.00" y1="343.20" x2="326.00" y2="362.53"/><line x1="324.50" y1="343.20" x2="327.50" y2="343.20"/><line x1="324.50" y1="362.53" x2="327.50" y2="362.53"/></g>
<g stroke="#ee4848" stroke-width="0.8" opacity="0.85"><line x1="339.50" y1="359.75" x2="339.50" y2="369.41"/><line x1="338.00" y1="359.75" x2="341.00" y2="359.75"/><line x1="338.00" y1="369.41" x2="341.00" y2="369.41"/></g>
<g stroke="#ee4848" stroke-width="0.8" opacity="0.85"><line x1="353.00" y1="363.13" x2="353.00" y2="375.21"/><line x1="351.50" y1="363.13" x2="354.50" y2="363.13"/><line x1="351.50" y1="375.21" x2="354.50" y2="375.21"/></g>
<g stroke="#ee4848" stroke-width="0.8" opacity="0.85"><line x1="380.00" y1="356.73" x2="380.00" y2="376.06"/><line x1="378.50" y1="356.73" x2="381.50" y2="356.73"/><line x1="378.50" y1="376.06" x2="381.50" y2="376.06"/></g>
<g stroke="#ee4848" stroke-width="0.8" opacity="0.85"><line x1="407.00" y1="358.30" x2="407.00" y2="372.80"/><line x1="405.50" y1="358.30" x2="408.50" y2="358.30"/><line x1="405.50" y1="372.80" x2="408.50" y2="372.80"/></g>
<g stroke="#ee4848" stroke-width="0.8" opacity="0.85"><line x1="434.00" y1="351.05" x2="434.00" y2="369.17"/><line x1="432.50" y1="351.05" x2="435.50" y2="351.05"/><line x1="432.50" y1="369.17" x2="435.50" y2="369.17"/></g>
<polyline points="326.00,366.45 339.50,376.12 353.00,376.42 380.00,381.25 407.00,386.69 434.00,386.08" fill="none" stroke="#1a7a1a" stroke-width="1.2"/>
<path d="M326.00,368.64 L328.09,365.03 L323.91,365.03 Z" fill="#1a7a1a"/>
<path d="M339.50,378.30 L341.59,374.69 L337.41,374.69 Z" fill="#1a7a1a"/>
<path d="M353.00,378.61 L355.09,375.00 L350.91,375.00 Z" fill="#1a7a1a"/>
<path d="M380.00,383.44 L382.09,379.83 L377.91,379.83 Z" fill="#1a7a1a"/>
<path d="M407.00,388.87 L409.09,385.26 L404.91,385.26 Z" fill="#1a7a1a"/>
<path d="M434.00,388.27 L436.09,384.66 L431.91,384.66 Z" fill="#1a7a1a"/>
<polyline points="326.00,367.36 339.50,375.21 353.00,381.25 380.00,383.06 407.00,386.69 434.00,384.88" fill="none" stroke="#1a1ae0" stroke-width="1.2"/>
<path d="M326.00,365.18 L328.09,368.79 L323.91,368.79 Z" fill="#1a1ae0"/>
<path d="M339.50,373.03 L341.59,376.64 L337.41,376.64 Z" fill="#1a1ae0"/>
<path d="M353.00,379.07 L355.09,382.68 L350.91,382.68 Z" fill="#1a1ae0"/>
<path d="M380.00,380.88 L382.09,384.49 L377.91,384.49 Z" fill="#1a1ae0"/>
<path d="M407.00,384.50 L409.09,388.11 L404.91,388.11 Z" fill="#1a1ae0"/>
<path d="M434.00,382.69 L436.09,386.30 L431.91,386.30 Z" fill="#1a1ae0"/>
<polyline points="326.00,369.78 339.50,382.46 353.00,384.88 380.00,391.52 407.00,386.69 434.00,380.65" fill="none" stroke="#000" stroke-width="1.2"/>
<circle cx="326.00" cy="369.78" r="1.90" fill="#000"/>
<circle cx="339.50" cy="382.46" r="1.90" fill="#000"/>
<circle cx="353.00" cy="384.88" r="1.90" fill="#000"/>
<circle cx="380.00" cy="391.52" r="1.90" fill="#000"/>
<circle cx="407.00" cy="386.69" r="1.90" fill="#000"/>
<circle cx="434.00" cy="380.65" r="1.90" fill="#000"/>
<polyline points="326.00,352.86 339.50,364.58 353.00,369.17 380.00,366.39 407.00,365.55 434.00,360.11" fill="none" stroke="#e81818" stroke-width="1.2"/>
<rect x="324.00" y="350.86" width="4.00" height="4.00" fill="#e81818"/>
<rect x="337.50" y="362.58" width="4.00" height="4.00" fill="#e81818"/>
<rect x="351.00" y="367.17" width="4.00" height="4.00" fill="#e81818"/>
<rect x="378.00" y="364.39" width="4.00" height="4.00" fill="#e81818"/>
<rect x="405.00" y="363.55" width="4.00" height="4.00" fill="#e81818"/>
<rect x="432.00" y="358.11" width="4.00" height="4.00" fill="#e81818"/>
<line x1="335.00" y1="312.00" x2="345.00" y2="312.00" stroke="#000" stroke-width="1.3" />
<circle cx="340.00" cy="312.00" r="1.75" fill="#000"/>
<text x="350.4" y="314.9" font-family='"Liberation Serif", serif' font-size="8.5" font-weight="bold" fill="#000" text-anchor="start" stroke="#000" stroke-width="0.18" >ND</text>
<line x1="335.00" y1="323.20" x2="345.00" y2="323.20" stroke="#e81818" stroke-width="1.3" />
<rect x="338.25" y="321.45" width="3.50" height="3.50" fill="#e81818"/>
<text x="350.4" y="326.09999999999997" font-family='"Liberation Serif", serif' font-size="8.5" font-weight="bold" fill="#000" text-anchor="start" stroke="#000" stroke-width="0.18" >HFD</text>
<line x1="335.00" y1="334.40" x2="345.00" y2="334.40" stroke="#1a1ae0" stroke-width="1.3" />
<path d="M340.00,332.39 L341.93,335.71 L338.07,335.71 Z" fill="#1a1ae0"/>
<text x="350.4" y="337.29999999999995" font-family='"Liberation Serif", serif' font-size="8.5" font-weight="bold" fill="#000" text-anchor="start" stroke="#000" stroke-width="0.18" >HFD+Rg<tspan font-size="5.95" dy="1.53">5</tspan><tspan dy="-1.53">(50mg/kg)</tspan></text>
<line x1="335.00" y1="345.60" x2="345.00" y2="345.60" stroke="#1a7a1a" stroke-width="1.3" />
<path d="M340.00,347.61 L341.93,344.29 L338.07,344.29 Z" fill="#1a7a1a"/>
<text x="350.4" y="348.5" font-family='"Liberation Serif", serif' font-size="8.5" font-weight="bold" fill="#000" text-anchor="start" stroke="#000" stroke-width="0.18" >HFD+Rg<tspan font-size="5.95" dy="1.53">5</tspan><tspan dy="-1.53">(100mg/kg)</tspan></text>
<line x1="488.60" y1="412.50" x2="488.60" y2="356.40" stroke="#333" stroke-width="0.7" />
<line x1="488.30" y1="412.50" x2="544.55" y2="412.50" stroke="#333" stroke-width="0.8" />
<line x1="486.20" y1="412.50" x2="488.60" y2="412.50" stroke="#333" stroke-width="0.6" />
<text x="486.40000000000003" y="414.3" font-family='"Liberation Sans", sans-serif' font-size="5.0" font-weight="bold" fill="#222" text-anchor="end" >0</text>
<line x1="486.20" y1="393.90" x2="488.60" y2="393.90" stroke="#333" stroke-width="0.6" />
<text x="486.40000000000003" y="395.7" font-family='"Liberation Sans", sans-serif' font-size="5.0" font-weight="bold" fill="#222" text-anchor="end" >500</text>
<line x1="486.20" y1="375.30" x2="488.60" y2="375.30" stroke="#333" stroke-width="0.6" />
<text x="486.40000000000003" y="377.1" font-family='"Liberation Sans", sans-serif' font-size="5.0" font-weight="bold" fill="#222" text-anchor="end" >1000</text>
<line x1="486.20" y1="356.70" x2="488.60" y2="356.70" stroke="#333" stroke-width="0.6" />
<text x="486.40000000000003" y="358.5" font-family='"Liberation Sans", sans-serif' font-size="5.0" font-weight="bold" fill="#222" text-anchor="end" >1500</text>
<rect x="492.50" y="387.95" width="8.60" height="24.55" fill="#8686f8"/>
<line x1="496.80" y1="387.95" x2="496.80" y2="386.09" stroke="#8686f8" stroke-width="0.6" />
<line x1="495.20" y1="386.09" x2="498.40" y2="386.09" stroke="#8686f8" stroke-width="0.6" />
<line x1="496.80" y1="412.50" x2="496.80" y2="414.10" stroke="#333" stroke-width="0.6" />
<rect x="505.60" y="373.07" width="8.60" height="39.43" fill="#5050f0"/>
<line x1="509.90" y1="373.07" x2="509.90" y2="370.09" stroke="#5050f0" stroke-width="0.6" />
<line x1="508.30" y1="370.09" x2="511.50" y2="370.09" stroke="#5050f0" stroke-width="0.6" />
<line x1="509.90" y1="412.50" x2="509.90" y2="414.10" stroke="#333" stroke-width="0.6" />
<rect x="518.30" y="385.34" width="8.60" height="27.16" fill="#0aa0f8"/>
<line x1="522.60" y1="385.34" x2="522.60" y2="381.25" stroke="#0aa0f8" stroke-width="0.6" />
<line x1="521.00" y1="381.25" x2="524.20" y2="381.25" stroke="#0aa0f8" stroke-width="0.6" />
<line x1="522.60" y1="412.50" x2="522.60" y2="414.10" stroke="#333" stroke-width="0.6" />
<rect x="531.25" y="384.97" width="8.60" height="27.53" fill="#0000c0"/>
<line x1="535.55" y1="384.97" x2="535.55" y2="383.48" stroke="#0000c0" stroke-width="0.6" />
<line x1="533.95" y1="383.48" x2="537.15" y2="383.48" stroke="#0000c0" stroke-width="0.6" />
<line x1="535.55" y1="412.50" x2="535.55" y2="414.10" stroke="#333" stroke-width="0.6" />
<text transform="translate(498.20,418.10) rotate(-45)" font-family='"Liberation Serif", serif' font-size="4.6" font-weight="bold" fill="#333" text-anchor="end">ND</text>
<text transform="translate(511.30,418.10) rotate(-45)" font-family='"Liberation Serif", serif' font-size="4.6" font-weight="bold" fill="#333" text-anchor="end">HFD</text>
<text transform="translate(524.00,418.10) rotate(-45)" font-family='"Liberation Serif", serif' font-size="4.6" font-weight="bold" fill="#333" text-anchor="end">HFD+Rg<tspan font-size="3" dy="0.8">5</tspan><tspan dy="-0.8">(50mg/kg)</tspan></text>
<text transform="translate(536.95,418.10) rotate(-45)" font-family='"Liberation Serif", serif' font-size="4.6" font-weight="bold" fill="#333" text-anchor="end">HFD+Rg<tspan font-size="3" dy="0.8">5</tspan><tspan dy="-0.8">(100mg/kg)</tspan></text>
<path d="M496.8,381.7 V361.3 H508.3 V365.4" fill="none" stroke="#444" stroke-width="0.7"/>
<path d="M500.70,356.80 L500.70,358.60 M499.92,357.25 L501.48,358.15 M501.48,357.25 L499.92,358.15" stroke="#333" stroke-width="0.55" fill="none"/>
<path d="M502.90,356.80 L502.90,358.60 M502.12,357.25 L503.68,358.15 M503.68,357.25 L502.12,358.15" stroke="#333" stroke-width="0.55" fill="none"/>
<path d="M505.10,356.80 L505.10,358.60 M504.32,357.25 L505.88,358.15 M505.88,357.25 L504.32,358.15" stroke="#333" stroke-width="0.55" fill="none"/>
<path d="M510.7,365.4 V362.1 H522.5 V376.8" fill="none" stroke="#444" stroke-width="0.7"/>
<path d="M514.30,357.30 L514.30,359.10 M513.52,357.75 L515.08,358.65 M515.08,357.75 L513.52,358.65" stroke="#333" stroke-width="0.55" fill="none"/>
<path d="M516.50,357.30 L516.50,359.10 M515.72,357.75 L517.28,358.65 M517.28,357.75 L515.72,358.65" stroke="#333" stroke-width="0.55" fill="none"/>
<path d="M518.70,357.30 L518.70,359.10 M517.92,357.75 L519.48,358.65 M519.48,357.75 L517.92,358.65" stroke="#333" stroke-width="0.55" fill="none"/>
<path d="M509.9,362 V354.4 H535.6 V377.6" fill="none" stroke="#444" stroke-width="0.7"/>
<path d="M520.00,349.40 L520.00,351.20 M519.22,349.85 L520.78,350.75 M520.78,349.85 L519.22,350.75" stroke="#333" stroke-width="0.55" fill="none"/>
<path d="M522.20,349.40 L522.20,351.20 M521.42,349.85 L522.98,350.75 M522.98,349.85 L521.42,350.75" stroke="#333" stroke-width="0.55" fill="none"/>
<path d="M524.40,349.40 L524.40,351.20 M523.62,349.85 L525.18,350.75 M525.18,349.85 L523.62,350.75" stroke="#333" stroke-width="0.55" fill="none"/>
<text transform="translate(474.20,384.10) rotate(-90)" font-family='"Liberation Serif", serif' font-size="4.45" font-weight="bold" fill="#111" text-anchor="middle">Area under the ITT curve</text>
<text transform="translate(6.6,466.7) scale(0.62,1)" font-family='"Liberation Serif", serif' font-size="14.8" font-weight="bold" fill="#000" stroke="#000" stroke-width="0.3">F</text>
<line x1="55.90" y1="622.50" x2="55.90" y2="470.00" stroke="#000" stroke-width="1.7" />
<line x1="55.10" y1="621.60" x2="309.30" y2="621.60" stroke="#000" stroke-width="1.6" />
<line x1="51.50" y1="621.60" x2="55.90" y2="621.60" stroke="#000" stroke-width="1.5" />
<text x="49.3" y="624.5" font-family='"Liberation Sans", sans-serif' font-size="8" font-weight="bold" fill="#000" text-anchor="end" stroke="#000" stroke-width="0.18" >0.00</text>
<line x1="51.50" y1="591.40" x2="55.90" y2="591.40" stroke="#000" stroke-width="1.5" />
<text x="49.3" y="594.3" font-family='"Liberation Sans", sans-serif' font-size="8" font-weight="bold" fill="#000" text-anchor="end" stroke="#000" stroke-width="0.18" >0.02</text>
<line x1="51.50" y1="561.20" x2="55.90" y2="561.20" stroke="#000" stroke-width="1.5" />
<text x="49.3" y="564.1" font-family='"Liberation Sans", sans-serif' font-size="8" font-weight="bold" fill="#000" text-anchor="end" stroke="#000" stroke-width="0.18" >0.04</text>
<line x1="51.50" y1="531.00" x2="55.90" y2="531.00" stroke="#000" stroke-width="1.5" />
<text x="49.3" y="533.9" font-family='"Liberation Sans", sans-serif' font-size="8" font-weight="bold" fill="#000" text-anchor="end" stroke="#000" stroke-width="0.18" >0.06</text>
<line x1="51.50" y1="500.80" x2="55.90" y2="500.80" stroke="#000" stroke-width="1.5" />
<text x="49.3" y="503.7" font-family='"Liberation Sans", sans-serif' font-size="8" font-weight="bold" fill="#000" text-anchor="end" stroke="#000" stroke-width="0.18" >0.08</text>
<line x1="51.50" y1="470.60" x2="55.90" y2="470.60" stroke="#000" stroke-width="1.5" />
<text x="49.3" y="473.5" font-family='"Liberation Sans", sans-serif' font-size="8" font-weight="bold" fill="#000" text-anchor="end" stroke="#000" stroke-width="0.18" >0.10</text>
<text transform="translate(28.30,547.60) rotate(-90)" font-family='"Liberation Serif", serif' font-size="8.9" font-weight="bold" fill="#000" text-anchor="middle" stroke="#000" stroke-width="0.18">Organ index ( % )</text>
<rect x="60.15" y="566.49" width="9.20" height="55.12" fill="#6cb6f6"/>
<rect x="73.95" y="543.53" width="9.20" height="78.07" fill="#8a8af4"/>
<rect x="87.85" y="578.57" width="9.20" height="43.03" fill="#7e7e7e"/>
<rect x="101.65" y="578.57" width="9.20" height="43.03" fill="#0000c6"/>
<line x1="85.50" y1="621.60" x2="85.50" y2="626.20" stroke="#000" stroke-width="1.3" />
<text x="85.6" y="633.8" font-family='"Liberation Serif", serif' font-size="6.4" font-weight="bold" fill="#000" text-anchor="middle" stroke="#000" stroke-width="0.18" letter-spacing="0.2">Liver</text>
<rect x="124.25" y="577.96" width="9.20" height="43.64" fill="#6cb6f6"/>
<rect x="138.05" y="512.88" width="9.20" height="108.72" fill="#8a8af4"/>
<rect x="151.95" y="543.08" width="9.20" height="78.52" fill="#7e7e7e"/>
<rect x="165.75" y="531.45" width="9.20" height="90.15" fill="#0000c6"/>
<line x1="149.60" y1="621.60" x2="149.60" y2="626.20" stroke="#000" stroke-width="1.3" />
<text x="149.7" y="633.8" font-family='"Liberation Serif", serif' font-size="6.4" font-weight="bold" fill="#000" text-anchor="middle" stroke="#000" stroke-width="0.18" letter-spacing="0.2">Epididymal adipose</text>
<rect x="188.55" y="600.16" width="9.20" height="21.44" fill="#6cb6f6"/>
<rect x="202.35" y="567.24" width="9.20" height="54.36" fill="#8a8af4"/>
<rect x="216.25" y="596.38" width="9.20" height="25.22" fill="#7e7e7e"/>
<rect x="230.05" y="588.38" width="9.20" height="33.22" fill="#0000c6"/>
<line x1="213.90" y1="621.60" x2="213.90" y2="626.20" stroke="#000" stroke-width="1.3" />
<text x="214.0" y="633.8" font-family='"Liberation Serif", serif' font-size="6.4" font-weight="bold" fill="#000" text-anchor="middle" stroke="#000" stroke-width="0.18" letter-spacing="0.2">Mesenteteric adipose</text>
<rect x="252.85" y="604.84" width="9.20" height="16.76" fill="#6cb6f6"/>
<rect x="266.65" y="575.85" width="9.20" height="45.75" fill="#8a8af4"/>
<rect x="280.55" y="590.80" width="9.20" height="30.80" fill="#7e7e7e"/>
<rect x="294.35" y="582.79" width="9.20" height="38.81" fill="#0000c6"/>
<line x1="278.20" y1="621.60" x2="278.20" y2="626.20" stroke="#000" stroke-width="1.3" />
<text x="278.3" y="633.8" font-family='"Liberation Serif", serif' font-size="6.4" font-weight="bold" fill="#000" text-anchor="middle" stroke="#000" stroke-width="0.18" letter-spacing="0.2">Perirenal adipose</text>
<line x1="64.75" y1="564.98" x2="64.75" y2="566.49" stroke="#333" stroke-width="0.7" />
<line x1="63.25" y1="564.98" x2="66.25" y2="564.98" stroke="#333" stroke-width="0.7" />
<line x1="78.55" y1="530.25" x2="78.55" y2="543.53" stroke="#9494f4" stroke-width="0.7" />
<line x1="77.05" y1="530.25" x2="80.05" y2="530.25" stroke="#9494f4" stroke-width="0.7" />
<line x1="92.45" y1="577.06" x2="92.45" y2="578.57" stroke="#707070" stroke-width="0.7" />
<line x1="90.95" y1="577.06" x2="93.95" y2="577.06" stroke="#707070" stroke-width="0.7" />
<line x1="106.25" y1="576.30" x2="106.25" y2="578.57" stroke="#222" stroke-width="0.7" />
<line x1="104.75" y1="576.30" x2="107.75" y2="576.30" stroke="#222" stroke-width="0.7" />
<line x1="128.85" y1="574.79" x2="128.85" y2="577.96" stroke="#333" stroke-width="0.7" />
<line x1="127.35" y1="574.79" x2="130.35" y2="574.79" stroke="#333" stroke-width="0.7" />
<line x1="142.65" y1="499.74" x2="142.65" y2="512.88" stroke="#9494f4" stroke-width="0.7" />
<line x1="141.15" y1="499.74" x2="144.15" y2="499.74" stroke="#9494f4" stroke-width="0.7" />
<line x1="156.55" y1="524.05" x2="156.55" y2="543.08" stroke="#707070" stroke-width="0.7" />
<line x1="155.05" y1="524.05" x2="158.05" y2="524.05" stroke="#707070" stroke-width="0.7" />
<line x1="170.35" y1="517.41" x2="170.35" y2="531.45" stroke="#222" stroke-width="0.7" />
<line x1="168.85" y1="517.41" x2="171.85" y2="517.41" stroke="#222" stroke-width="0.7" />
<line x1="193.15" y1="593.67" x2="193.15" y2="600.16" stroke="#333" stroke-width="0.7" />
<line x1="191.65" y1="593.67" x2="194.65" y2="593.67" stroke="#333" stroke-width="0.7" />
<line x1="206.95" y1="566.49" x2="206.95" y2="567.24" stroke="#9494f4" stroke-width="0.7" />
<line x1="205.45" y1="566.49" x2="208.45" y2="566.49" stroke="#9494f4" stroke-width="0.7" />
<line x1="220.85" y1="591.70" x2="220.85" y2="596.38" stroke="#707070" stroke-width="0.7" />
<line x1="219.35" y1="591.70" x2="222.35" y2="591.70" stroke="#707070" stroke-width="0.7" />
<line x1="234.65" y1="575.85" x2="234.65" y2="588.38" stroke="#222" stroke-width="0.7" />
<line x1="233.15" y1="575.85" x2="236.15" y2="575.85" stroke="#222" stroke-width="0.7" />
<line x1="257.45" y1="601.97" x2="257.45" y2="604.84" stroke="#333" stroke-width="0.7" />
<line x1="255.95" y1="601.97" x2="258.95" y2="601.97" stroke="#333" stroke-width="0.7" />
<line x1="271.25" y1="572.52" x2="271.25" y2="575.85" stroke="#9494f4" stroke-width="0.7" />
<line x1="269.75" y1="572.52" x2="272.75" y2="572.52" stroke="#9494f4" stroke-width="0.7" />
<line x1="285.15" y1="584.15" x2="285.15" y2="590.80" stroke="#707070" stroke-width="0.7" />
<line x1="283.65" y1="584.15" x2="286.65" y2="584.15" stroke="#707070" stroke-width="0.7" />
<line x1="298.95" y1="580.08" x2="298.95" y2="582.79" stroke="#222" stroke-width="0.7" />
<line x1="297.45" y1="580.08" x2="300.45" y2="580.08" stroke="#222" stroke-width="0.7" />
<circle cx="62" cy="564.2" r="1.3" fill="#111"/>
<circle cx="64.5" cy="563.5" r="1.3" fill="#111"/>
<circle cx="67.7" cy="563" r="1.3" fill="#111"/>
<circle cx="62" cy="567.4" r="1.3" fill="#111"/>
<circle cx="65.2" cy="568.6" r="1.3" fill="#111"/>
<circle cx="67.7" cy="570.5" r="1.3" fill="#111"/>
<circle cx="76" cy="530.5" r="1.3" fill="#111"/>
<circle cx="81.1" cy="528.2" r="1.3" fill="#111"/>
<circle cx="78.5" cy="540.7" r="1.3" fill="#111"/>
<circle cx="78.5" cy="544.8" r="1.3" fill="#111"/>
<circle cx="78.5" cy="555.9" r="1.3" fill="#111"/>
<circle cx="78.5" cy="560.4" r="1.3" fill="#111"/>
<circle cx="89.6" cy="576.3" r="1.3" fill="#111"/>
<circle cx="92.5" cy="576.9" r="1.3" fill="#111"/>
<circle cx="95.5" cy="576" r="1.3" fill="#111"/>
<circle cx="89.6" cy="580.1" r="1.3" fill="#111"/>
<circle cx="95.5" cy="580.5" r="1.3" fill="#111"/>
<circle cx="95.1" cy="583.3" r="1.3" fill="#111"/>
<circle cx="103.4" cy="575.6" r="1.3" fill="#111"/>
<circle cx="106.5" cy="573.7" r="1.3" fill="#111"/>
<circle cx="109.1" cy="578.8" r="1.3" fill="#111"/>
<circle cx="104.6" cy="583.9" r="1.3" fill="#111"/>
<circle cx="107.8" cy="586.5" r="1.3" fill="#111"/>
<circle cx="105.9" cy="576.9" r="1.3" fill="#111"/>
<circle cx="128.9" cy="571.8" r="1.3" fill="#111"/>
<circle cx="126.3" cy="577.2" r="1.3" fill="#111"/>
<circle cx="129.4" cy="576.7" r="1.3" fill="#111"/>
<circle cx="132.5" cy="580" r="1.3" fill="#111"/>
<circle cx="128.9" cy="585" r="1.3" fill="#111"/>
<circle cx="130.9" cy="574.9" r="1.3" fill="#111"/>
<circle cx="139.7" cy="501.3" r="1.3" fill="#111"/>
<circle cx="142.9" cy="501.7" r="1.3" fill="#111"/>
<circle cx="145.5" cy="499.8" r="1.3" fill="#111"/>
<circle cx="141.2" cy="523.1" r="1.3" fill="#111"/>
<circle cx="143.4" cy="524.5" r="1.3" fill="#111"/>
<circle cx="144.8" cy="526.4" r="1.3" fill="#111"/>
<circle cx="154.6" cy="520.6" r="1.3" fill="#111"/>
<circle cx="158.9" cy="518.7" r="1.3" fill="#111"/>
<circle cx="154.2" cy="549.3" r="1.3" fill="#111"/>
<circle cx="159.3" cy="552.1" r="1.3" fill="#111"/>
<circle cx="156.5" cy="556.3" r="1.3" fill="#111"/>
<circle cx="156.5" cy="562.5" r="1.3" fill="#111"/>
<circle cx="168.1" cy="519.5" r="1.3" fill="#111"/>
<circle cx="172.9" cy="517.7" r="1.3" fill="#111"/>
<circle cx="168.1" cy="527.9" r="1.3" fill="#111"/>
<circle cx="172.9" cy="528.5" r="1.3" fill="#111"/>
<circle cx="170.3" cy="539.5" r="1.3" fill="#111"/>
<circle cx="170.5" cy="555.5" r="1.3" fill="#111"/>
<circle cx="193.3" cy="589.9" r="1.3" fill="#111"/>
<circle cx="192.6" cy="596.5" r="1.3" fill="#111"/>
<circle cx="190" cy="605.2" r="1.3" fill="#111"/>
<circle cx="193.3" cy="605.8" r="1.3" fill="#111"/>
<circle cx="196.6" cy="606.5" r="1.3" fill="#111"/>
<circle cx="194.6" cy="597.2" r="1.3" fill="#111"/>
<circle cx="205.3" cy="565.9" r="1.3" fill="#111"/>
<circle cx="207.3" cy="566.6" r="1.3" fill="#111"/>
<circle cx="209.9" cy="567.9" r="1.3" fill="#111"/>
<circle cx="204.5" cy="565.6" r="1.3" fill="#111"/>
<circle cx="208.6" cy="567.2" r="1.3" fill="#111"/>
<circle cx="211" cy="568.4" r="1.3" fill="#111"/>
<circle cx="217.9" cy="592.5" r="1.3" fill="#111"/>
<circle cx="222.6" cy="590.5" r="1.3" fill="#111"/>
<circle cx="221.2" cy="595.9" r="1.3" fill="#111"/>
<circle cx="218.6" cy="601.8" r="1.3" fill="#111"/>
<circle cx="223.2" cy="602.5" r="1.3" fill="#111"/>
<circle cx="219.5" cy="594" r="1.3" fill="#111"/>
<circle cx="234.5" cy="568.6" r="1.3" fill="#111"/>
<circle cx="234.5" cy="579.2" r="1.3" fill="#111"/>
<circle cx="231.9" cy="591.2" r="1.3" fill="#111"/>
<circle cx="236.9" cy="591.9" r="1.3" fill="#111"/>
<circle cx="234.5" cy="596.5" r="1.3" fill="#111"/>
<circle cx="234.5" cy="602.5" r="1.3" fill="#111"/>
<circle cx="254.9" cy="601" r="1.3" fill="#111"/>
<circle cx="258.6" cy="600.1" r="1.3" fill="#111"/>
<circle cx="260.9" cy="600.4" r="1.3" fill="#111"/>
<circle cx="257.1" cy="606" r="1.3" fill="#111"/>
<circle cx="258.6" cy="610.9" r="1.3" fill="#111"/>
<circle cx="256.4" cy="602.9" r="1.3" fill="#111"/>
<circle cx="269.4" cy="572.5" r="1.3" fill="#111"/>
<circle cx="273.5" cy="570.7" r="1.3" fill="#111"/>
<circle cx="269.8" cy="575.9" r="1.3" fill="#111"/>
<circle cx="269.4" cy="581.1" r="1.3" fill="#111"/>
<circle cx="273.9" cy="581.1" r="1.3" fill="#111"/>
<circle cx="271.7" cy="577.7" r="1.3" fill="#111"/>
<circle cx="285.1" cy="580" r="1.3" fill="#111"/>
<circle cx="282.5" cy="589.8" r="1.3" fill="#111"/>
<circle cx="286.6" cy="589.3" r="1.3" fill="#111"/>
<circle cx="283.2" cy="593.6" r="1.3" fill="#111"/>
<circle cx="286.9" cy="596.7" r="1.3" fill="#111"/>
<circle cx="284.7" cy="593" r="1.3" fill="#111"/>
<circle cx="298.7" cy="578.7" r="1.3" fill="#111"/>
<circle cx="296.8" cy="580.5" r="1.3" fill="#111"/>
<circle cx="301.5" cy="581.5" r="1.3" fill="#111"/>
<circle cx="299.2" cy="589.8" r="1.3" fill="#111"/>
<circle cx="297.7" cy="583.3" r="1.3" fill="#111"/>
<circle cx="300.5" cy="579.5" r="1.3" fill="#111"/>
<path d="M64.5,546.6 V512.9 H78.5 V517.4" fill="none" stroke="#111" stroke-width="1.15"/>
<path d="M80.5,517.4 V513.2 H92.5 V564.2" fill="none" stroke="#111" stroke-width="1.15"/>
<path d="M80.5,517.4 V504.6 H108.2 V564.8" fill="none" stroke="#111" stroke-width="1.15"/>
<path d="M129.3,564.8 V493.3 H141.5 V497.3" fill="none" stroke="#111" stroke-width="1.15"/>
<path d="M143.8,497.3 V493.3 H156.0 V512.2" fill="none" stroke="#111" stroke-width="1.15"/>
<path d="M193.4,588.9 V553.5 H207.6 V559.1" fill="none" stroke="#111" stroke-width="1.15"/>
<path d="M208.9,559.1 V553.5 H220.6 V589.8" fill="none" stroke="#111" stroke-width="1.15"/>
<path d="M208.9,559.1 V547.6 H234.9 V564.7" fill="none" stroke="#111" stroke-width="1.15"/>
<path d="M257.7,590.8 V555.4 H270.7 V561.3" fill="none" stroke="#111" stroke-width="1.15"/>
<path d="M272.0,561.3 V555.4 H285.0 V575.9" fill="none" stroke="#111" stroke-width="1.15"/>
<path d="M67.30,506.25 L67.30,509.35 M65.96,507.03 L68.64,508.57 M68.64,507.03 L65.96,508.57" stroke="#111" stroke-width="0.9" fill="none"/>
<path d="M71.50,506.25 L71.50,509.35 M70.16,507.03 L72.84,508.57 M72.84,507.03 L70.16,508.57" stroke="#111" stroke-width="0.9" fill="none"/>
<path d="M75.70,506.25 L75.70,509.35 M74.36,507.03 L77.04,508.57 M77.04,507.03 L74.36,508.57" stroke="#111" stroke-width="0.9" fill="none"/>
<path d="M84.20,506.25 L84.20,509.35 M82.86,507.03 L85.54,508.57 M85.54,507.03 L82.86,508.57" stroke="#111" stroke-width="0.9" fill="none"/>
<path d="M88.40,506.25 L88.40,509.35 M87.06,507.03 L89.74,508.57 M89.74,507.03 L87.06,508.57" stroke="#111" stroke-width="0.9" fill="none"/>
<path d="M92.60,506.25 L92.60,509.35 M91.26,507.03 L93.94,508.57 M93.94,507.03 L91.26,508.57" stroke="#111" stroke-width="0.9" fill="none"/>
<path d="M90.60,497.65 L90.60,500.75 M89.26,498.43 L91.94,499.97 M91.94,498.43 L89.26,499.97" stroke="#111" stroke-width="0.9" fill="none"/>
<path d="M94.80,497.65 L94.80,500.75 M93.46,498.43 L96.14,499.97 M96.14,498.43 L93.46,499.97" stroke="#111" stroke-width="0.9" fill="none"/>
<path d="M99.00,497.65 L99.00,500.75 M97.66,498.43 L100.34,499.97 M100.34,498.43 L97.66,499.97" stroke="#111" stroke-width="0.9" fill="none"/>
<path d="M131.10,485.85 L131.10,488.95 M129.76,486.62 L132.44,488.17 M132.44,486.62 L129.76,488.17" stroke="#111" stroke-width="0.9" fill="none"/>
<path d="M135.30,485.85 L135.30,488.95 M133.96,486.62 L136.64,488.17 M136.64,486.62 L133.96,488.17" stroke="#111" stroke-width="0.9" fill="none"/>
<path d="M139.50,485.85 L139.50,488.95 M138.16,486.62 L140.84,488.17 M140.84,486.62 L138.16,488.17" stroke="#111" stroke-width="0.9" fill="none"/>
<path d="M148.20,485.85 L148.20,488.95 M146.86,486.62 L149.54,488.17 M149.54,486.62 L146.86,488.17" stroke="#111" stroke-width="0.9" fill="none"/>
<path d="M152.40,485.85 L152.40,488.95 M151.06,486.62 L153.74,488.17 M153.74,486.62 L151.06,488.17" stroke="#111" stroke-width="0.9" fill="none"/>
<path d="M195.40,548.05 L195.40,551.15 M194.06,548.83 L196.74,550.38 M196.74,548.83 L194.06,550.38" stroke="#111" stroke-width="0.9" fill="none"/>
<path d="M199.60,548.05 L199.60,551.15 M198.26,548.83 L200.94,550.38 M200.94,548.83 L198.26,550.38" stroke="#111" stroke-width="0.9" fill="none"/>
<path d="M203.80,548.05 L203.80,551.15 M202.46,548.83 L205.14,550.38 M205.14,548.83 L202.46,550.38" stroke="#111" stroke-width="0.9" fill="none"/>
<path d="M212.10,548.05 L212.10,551.15 M210.76,548.83 L213.44,550.38 M213.44,548.83 L210.76,550.38" stroke="#111" stroke-width="0.9" fill="none"/>
<path d="M216.30,548.05 L216.30,551.15 M214.96,548.83 L217.64,550.38 M217.64,548.83 L214.96,550.38" stroke="#111" stroke-width="0.9" fill="none"/>
<path d="M220.50,548.05 L220.50,551.15 M219.16,548.83 L221.84,550.38 M221.84,548.83 L219.16,550.38" stroke="#111" stroke-width="0.9" fill="none"/>
<path d="M217.70,539.45 L217.70,542.55 M216.36,540.23 L219.04,541.77 M219.04,540.23 L216.36,541.77" stroke="#111" stroke-width="0.9" fill="none"/>
<path d="M221.90,539.45 L221.90,542.55 M220.56,540.23 L223.24,541.77 M223.24,540.23 L220.56,541.77" stroke="#111" stroke-width="0.9" fill="none"/>
<path d="M226.10,539.45 L226.10,542.55 M224.76,540.23 L227.44,541.77 M227.44,540.23 L224.76,541.77" stroke="#111" stroke-width="0.9" fill="none"/>
<path d="M259.60,547.45 L259.60,550.55 M258.26,548.23 L260.94,549.77 M260.94,548.23 L258.26,549.77" stroke="#111" stroke-width="0.9" fill="none"/>
<path d="M263.80,547.45 L263.80,550.55 M262.46,548.23 L265.14,549.77 M265.14,548.23 L262.46,549.77" stroke="#111" stroke-width="0.9" fill="none"/>
<path d="M268.00,547.45 L268.00,550.55 M266.66,548.23 L269.34,549.77 M269.34,548.23 L266.66,549.77" stroke="#111" stroke-width="0.9" fill="none"/>
<path d="M274.00,547.45 L274.00,550.55 M272.66,548.23 L275.34,549.77 M275.34,548.23 L272.66,549.77" stroke="#111" stroke-width="0.9" fill="none"/>
<path d="M278.20,547.45 L278.20,550.55 M276.86,548.23 L279.54,549.77 M279.54,548.23 L276.86,549.77" stroke="#111" stroke-width="0.9" fill="none"/>
<path d="M282.40,547.45 L282.40,550.55 M281.06,548.23 L283.74,549.77 M283.74,548.23 L281.06,549.77" stroke="#111" stroke-width="0.9" fill="none"/>
<rect x="194.10" y="487.25" width="11.70" height="3.50" fill="#6cb6f6"/>
<text x="212.9" y="491.7" font-family='"Liberation Serif", serif' font-size="7.9" font-weight="bold" fill="#000" text-anchor="start" stroke="#000" stroke-width="0.18" >ND</text>
<rect x="194.10" y="497.18" width="11.70" height="3.50" fill="#8a8af4"/>
<text x="212.9" y="501.63" font-family='"Liberation Serif", serif' font-size="7.9" font-weight="bold" fill="#000" text-anchor="start" stroke="#000" stroke-width="0.18" >HFD</text>
<rect x="194.10" y="507.11" width="11.70" height="3.50" fill="#7e7e7e"/>
<text x="212.9" y="511.56" font-family='"Liberation Serif", serif' font-size="7.9" font-weight="bold" fill="#000" text-anchor="start" stroke="#000" stroke-width="0.18" >HFD+Rg<tspan font-size="5.53" dy="1.42">5</tspan><tspan dy="-1.42">(50mg/kg)</tspan></text>
<rect x="194.10" y="517.04" width="11.70" height="3.50" fill="#0000c6"/>
<text x="212.9" y="521.49" font-family='"Liberation Serif", serif' font-size="7.9" font-weight="bold" fill="#000" text-anchor="start" stroke="#000" stroke-width="0.18" >HFD+Rg<tspan font-size="5.53" dy="1.42">5</tspan><tspan dy="-1.42">(100mg/kg)</tspan></text>
</svg>
</body></html>
